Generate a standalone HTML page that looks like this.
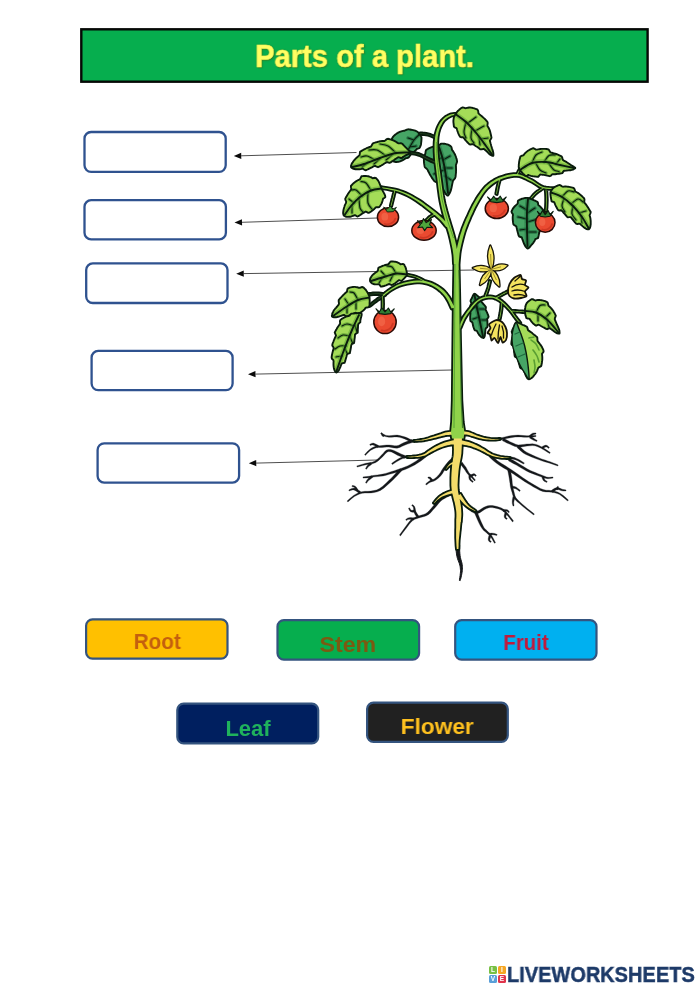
<!DOCTYPE html>
<html lang="en">
<head>
<meta charset="utf-8">
<title>Parts of a plant</title>
<style>
html,body{margin:0;padding:0;background:#fff;overflow:hidden;}
html{width:700px;height:989px;}
body{width:700px;height:989px;position:relative;overflow:hidden;font-family:"Liberation Sans",sans-serif;}
.abs{position:absolute;box-sizing:border-box;}
#title{left:80px;top:28px;width:569px;height:55px;border:2px solid transparent;}
.t{position:absolute;white-space:nowrap;font-weight:bold;text-align:center;transform-origin:50% 50%;will-change:transform;}
#title .t{left:-2px;width:569px;top:11.3px;font-size:31.7px;line-height:31.7px;color:#ffff63;transform:scaleX(.921);-webkit-text-stroke:.5px #f4f45a;text-shadow:0 0 1.5px rgba(120,130,20,.9),1px 1px 1.5px rgba(70,90,10,.6);}
.blank{width:144px;height:42px;}
.tag{border:2px solid transparent;width:143px;height:42px;}
.tag .t{left:-2px;}
#logo{left:506.6px;top:963.6px;text-align:left;transform-origin:0 50%;font-size:22px;line-height:22px;color:#1d3a68;transform:scaleX(.903);-webkit-text-stroke:.5px #1d3a68;letter-spacing:.1px;}
.lg{position:absolute;width:8px;height:8px;border-radius:1.5px;color:#fff;font-size:6.5px;line-height:8px;font-weight:bold;text-align:center;will-change:transform;}
#plant{left:0;top:0;width:700px;height:989px;}
</style>
</head>
<body>
<svg id="plant" class="abs" viewBox="0 0 700 989">
<!--PLANT-->
<rect x="81.3" y="29.3" width="566.3" height="52.4" rx="0" fill="#06ae4e" stroke="#050805" stroke-width="2.4"/>
<rect x="84.5" y="132" width="141.2" height="39.9" rx="6.6" fill="#ffffff" stroke="#2f528f" stroke-width="2.3"/>
<rect x="84.5" y="200.2" width="141.4" height="39.1" rx="6.6" fill="#ffffff" stroke="#2f528f" stroke-width="2.3"/>
<rect x="86.2" y="263.4" width="141.3" height="39.6" rx="6.6" fill="#ffffff" stroke="#2f528f" stroke-width="2.3"/>
<rect x="91.6" y="350.9" width="141" height="39.3" rx="6.6" fill="#ffffff" stroke="#2f528f" stroke-width="2.3"/>
<rect x="97.6" y="443.3" width="141.5" height="39.3" rx="6.6" fill="#ffffff" stroke="#2f528f" stroke-width="2.3"/>
<rect x="86.1" y="619.3" width="141.4" height="39.4" rx="6.4" fill="#ffc000" stroke="#34547f" stroke-width="2.2"/>
<rect x="277.5" y="620.2" width="141.6" height="39.4" rx="6.4" fill="#06ae4e" stroke="#34547f" stroke-width="2.2"/>
<rect x="455.2" y="620.2" width="141.3" height="39.4" rx="6.4" fill="#00b0f0" stroke="#34547f" stroke-width="2.2"/>
<rect x="177.3" y="703.7" width="140.9" height="39.7" rx="6.4" fill="#001f5f" stroke="#34547f" stroke-width="2.2"/>
<rect x="367.1" y="702.7" width="140.7" height="39.1" rx="6.4" fill="#212121" stroke="#34547f" stroke-width="2.2"/>
<path d="M241.2 155.8L356.5 152.5" stroke="#3a3a3a" stroke-width="0.9" fill="none"/>
<path d="M233.8 156L241.3 158.9L241.2 152.7Z" fill="#0a0a0a"/>
<path d="M242 222.3L377.5 218" stroke="#3a3a3a" stroke-width="0.9" fill="none"/>
<path d="M234.5 222.5L242.1 225.4L241.9 219.2Z" fill="#0a0a0a"/>
<path d="M243.7 273.6L474 270" stroke="#3a3a3a" stroke-width="0.9" fill="none"/>
<path d="M236.2 273.8L243.8 276.7L243.7 270.5Z" fill="#0a0a0a"/>
<path d="M255.5 374.1L452 370" stroke="#3a3a3a" stroke-width="0.9" fill="none"/>
<path d="M248 374.2L255.6 377.2L255.4 371Z" fill="#0a0a0a"/>
<path d="M256.2 463.1L377.5 460" stroke="#3a3a3a" stroke-width="0.9" fill="none"/>
<path d="M248.8 463.2L256.3 466.2L256.2 460Z" fill="#0a0a0a"/>
<path d="M451.6 431.5L449.2 432.2L445.9 433.2L442.6 434.1L440 434.8L437.5 435.5L434.7 436.2L431.3 437.1L427.5 438L423.8 438.8L419.9 439.4L416 439.9L412.6 439.9L410.1 439.3L407.8 438.1L405.4 437.1L402.6 436.3L399.9 435.6L397.1 435.1L394.2 435.2L391.5 435.6L389 435.7L386.5 435.4L383.9 434.8L382.2 434.4L381.8 435.6L383.6 436.1L386.2 436.8L389 437.3L391.7 437.2L394.4 436.9L396.9 436.9L399.5 437.3L402.1 438.1L404.6 438.9L406.9 440L409.3 441.3L412.4 442.1L416.1 442.2L420.2 441.8L424.2 441.2L428.1 440.5L431.9 439.6L435.3 438.8L438.2 438.1L440.7 437.5L443.4 436.9L446.7 436L450 435.1L452.4 434.5Z" fill="#14171a" stroke="#14171a" stroke-width=".3" stroke-linejoin="round"/>
<path d="M384.9 435.1L383.8 434.4L382.4 433.3L381.4 432.6L380.6 433.4L381.3 434.4L382.4 435.8L383.1 436.9Z" fill="#14171a" stroke="#14171a" stroke-width=".3" stroke-linejoin="round"/>
<path d="M412 439.7L409.8 440.5L406.6 441.6L403.5 442.8L401 444L398.9 445.2L396.9 445.8L394.5 445.8L391.8 445.3L389.1 445L386.5 445L384.1 445.3L381.9 445.6L379.9 445.7L377.9 445.8L375.8 446.2L373.7 447L371.6 448.1L369.6 449.4L367.6 451.2L365.8 453.2L364.6 454.6L365.4 455.4L366.7 454.1L368.5 452.2L370.4 450.6L372.3 449.4L374.3 448.5L376.2 447.8L378.1 447.5L380 447.5L382.1 447.4L384.3 447.2L386.6 447.1L388.9 447L391.4 447.4L394.2 448L397.1 448.2L399.8 447.4L402.1 446.3L404.5 445.2L407.5 444.1L410.7 443.1L413 442.3Z" fill="#14171a" stroke="#14171a" stroke-width=".3" stroke-linejoin="round"/>
<path d="M378.6 445.5L377.2 444.8L375.1 443.8L373.2 443.1L371.5 443.4L370.4 444L369.7 444.5L370.3 445.5L371 445.2L371.9 444.9L372.8 444.9L374.3 445.6L376.1 446.7L377.4 447.5Z" fill="#14171a" stroke="#14171a" stroke-width=".3" stroke-linejoin="round"/>
<path d="M452 439.4L449.8 440.2L446.7 441.4L443.5 442.6L440.4 443.7L437.2 445L434.4 446.2L432.3 447.5L430.7 448.7L429.2 450L427.7 451.5L426.3 452.9L424.6 453.9L421.8 454.6L418.4 455.1L414.9 455.5L411.5 455.6L408.1 455.7L404.8 456.1L402.1 456.9L399.8 458.1L397.6 459.3L395.3 460.8L393.1 462.3L391.6 463.4L392.4 464.6L393.9 463.5L396.1 462.1L398.4 460.7L400.5 459.6L402.7 458.6L405.2 457.9L408.2 457.7L411.6 457.7L415.1 457.5L418.6 457.3L422.2 456.8L425.4 456.1L427.8 454.8L429.4 453.3L430.8 452L432.3 450.8L433.8 449.8L435.6 448.8L438.3 447.7L441.4 446.5L444.5 445.4L447.7 444.3L450.8 443.3L453 442.6Z" fill="#14171a" stroke="#14171a" stroke-width=".3" stroke-linejoin="round"/>
<path d="M405.5 455.7L403.7 455L401 453.9L398.6 452.8L396.5 451.8L394.4 450.7L392.4 449.9L390.4 449.5L388.5 449.4L386.5 450.1L384.7 451.5L383.1 453.4L381.3 455.3L379.3 457.4L377 459.6L374.6 461.3L372 462.2L368.9 462.7L365.8 463.3L362.5 464.2L359.2 465.2L356.8 465.9L357.2 467.1L359.5 466.4L362.8 465.5L366.2 464.7L369.2 464.2L372.3 463.7L375.4 462.7L378.1 460.9L380.5 458.7L382.7 456.7L384.5 454.7L386.1 453L387.5 451.9L388.8 451.6L390.1 451.7L391.6 452.1L393.4 452.9L395.3 454L397.4 455.2L400 456.3L402.6 457.5L404.5 458.3Z" fill="#14171a" stroke="#14171a" stroke-width=".3" stroke-linejoin="round"/>
<path d="M370.3 462.6L369.5 463.3L368.4 464.3L367.4 465.4L366.6 466.6L365.9 467.9L365.5 468.7L366.5 469.3L367 468.5L367.8 467.5L368.6 466.6L369.7 465.8L370.9 465L371.7 464.4Z" fill="#14171a" stroke="#14171a" stroke-width=".3" stroke-linejoin="round"/>
<path d="M424.1 454.9L422.1 456.5L419.2 458.7L416.3 460.9L413.4 462.7L410.4 464.4L407.5 465.9L404.8 467L402.2 468L399.6 468.9L397 469.8L394.4 470.7L391.7 471.5L388.8 472.4L385.7 473.4L382.8 474.1L380.1 474.6L377.4 474.9L374.9 475.2L372.7 475.6L370.8 476L368.9 476.3L366.7 476.5L364.5 476.7L363 476.9L363 478.1L364.6 478L366.8 477.9L369.1 477.7L371.1 477.4L373 477.1L375.1 476.8L377.6 476.6L380.3 476.3L383.2 475.9L386.2 475.2L389.3 474.3L392.3 473.5L395 472.7L397.7 471.9L400.4 471.1L403 470.2L405.7 469.3L408.5 468.1L411.6 466.6L414.7 464.9L417.7 463.1L420.9 461L423.8 458.7L425.9 457.1Z" fill="#14171a" stroke="#14171a" stroke-width=".3" stroke-linejoin="round"/>
<path d="M371.2 475.6L370.2 476.6L368.7 478L367.4 479.4L366.5 480.7L365.9 481.9L365.5 482.7L366.5 483.3L367 482.6L367.7 481.6L368.6 480.6L370 479.5L371.6 478.3L372.8 477.4Z" fill="#14171a" stroke="#14171a" stroke-width=".3" stroke-linejoin="round"/>
<path d="M400 468.6L398.7 470L396.9 472L395.1 474.1L393.3 476L391.5 477.9L389.2 480.1L386.2 483L382.7 486.2L379.5 488.6L376.6 489.9L373.8 490.6L370.9 491.1L367.9 491.3L364.9 491.3L361.8 491.7L358.9 492.6L356.2 493.9L353.6 495.4L351.1 497.4L348.7 499.5L347.1 501.1L347.9 501.9L349.6 500.5L351.9 498.4L354.4 496.6L356.9 495.2L359.5 494.1L362.2 493.3L365 493L368 493.1L371.1 492.9L374.1 492.5L377.2 491.8L380.5 490.4L384.1 487.9L387.7 484.7L390.8 481.9L393.2 479.7L395.1 477.7L396.9 475.9L398.9 473.8L400.8 471.8L402 470.4Z" fill="#14171a" stroke="#14171a" stroke-width=".3" stroke-linejoin="round"/>
<path d="M360.7 491.5L359 490.5L356.6 489.1L354.2 488.1L351.9 488.4L350 489.3L348.8 490L349.2 491L350.5 490.5L352.3 489.9L353.8 489.9L355.7 490.8L357.8 492.3L359.3 493.5Z" fill="#14171a" stroke="#14171a" stroke-width=".3" stroke-linejoin="round"/>
<path d="M358 490L357.5 489L356.6 487.6L355.6 486.4L354.2 485.7L353 485.5L352.1 485.5L351.9 486.5L352.7 486.8L353.7 487.1L354.4 487.6L355 488.6L355.6 490L356 491Z" fill="#14171a" stroke="#14171a" stroke-width=".3" stroke-linejoin="round"/>
<path d="M451.9 457.9L450.6 459.2L448.7 461.1L447 463.1L445.6 464.8L444.3 466.5L443 468.3L441.7 470.3L440.5 472.4L439.2 474.3L437.7 476L436.1 477.5L434.5 478.7L433 479.5L431.3 480.1L429.6 480.8L428 481.9L426.6 483.1L425.6 484L426.4 485L427.4 484.2L428.9 483.1L430.4 482.2L431.9 481.7L433.6 481.2L435.5 480.3L437.3 479L439.1 477.5L440.8 475.7L442.4 473.7L443.7 471.6L445 469.7L446.3 468.1L447.6 466.5L449 464.9L450.8 463.2L452.7 461.4L454.1 460.1Z" fill="#14171a" stroke="#14171a" stroke-width=".3" stroke-linejoin="round"/>
<path d="M432.9 479.8L432.3 479.2L431.5 478.2L430.5 477.3L429.5 476.9L428.6 476.9L428.1 477L427.9 478L428.4 478.2L429 478.4L429.5 478.7L430 479.4L430.6 480.4L431.1 481.2Z" fill="#14171a" stroke="#14171a" stroke-width=".3" stroke-linejoin="round"/>
<path d="M452.4 491.6L450.6 492.3L447.9 493.5L445.3 494.7L443.2 495.9L441.1 497.3L439.1 499L437 501.3L435 503.8L433 506.2L431.1 508.6L429.1 510.8L427.3 512.6L425.5 513.7L423.6 514.4L421.7 515L420 515.6L418.4 516L416.7 516.6L415 517.3L413.2 518.1L411.5 519.3L409.8 521.1L408.2 523.1L406.4 525.5L404 528.8L401.3 532.5L399.5 535.1L400.5 535.9L402.4 533.3L405.1 529.7L407.6 526.5L409.4 524.1L411 522.2L412.5 520.7L414.1 519.6L415.7 519L417.3 518.4L418.9 517.9L420.5 517.5L422.3 517L424.3 516.4L426.4 515.7L428.7 514.4L430.9 512.5L432.9 510.1L435 507.8L437 505.4L439 503L440.9 501L442.8 499.5L444.7 498.4L446.7 497.3L449.1 496.2L451.7 495.1L453.6 494.4Z" fill="#14171a" stroke="#14171a" stroke-width=".3" stroke-linejoin="round"/>
<path d="M419 516.3L418.1 515.1L416.9 513.3L415.9 511.6L415.5 510.1L415.2 508.3L414.7 506.7L413.8 505.6L412.9 504.9L412.3 504.6L411.7 505.4L412.2 505.9L412.8 506.5L413.3 507.3L413.5 508.6L413.7 510.4L414.1 512.4L415 514.4L416.2 516.3L417 517.7Z" fill="#14171a" stroke="#14171a" stroke-width=".3" stroke-linejoin="round"/>
<path d="M414.9 509.9L413.8 510.1L412.4 510.3L411.4 510.2L410.7 509.7L410 508.6L409.5 507.8L408.5 508.2L408.9 509.2L409.5 510.6L410.6 511.8L412.3 512.2L414 512.2L415.1 512.1Z" fill="#14171a" stroke="#14171a" stroke-width=".3" stroke-linejoin="round"/>
<path d="M414.2 517.9L412.8 517.8L410.8 517.6L408.9 517.7L407.4 518.2L406.4 519L405.7 519.5L406.3 520.5L407 520.1L408 519.6L409.1 519.3L410.6 519.5L412.5 519.8L413.8 520.1Z" fill="#14171a" stroke="#14171a" stroke-width=".3" stroke-linejoin="round"/>
<path d="M459.9 463.9L461 465.1L462.6 466.9L464 468.7L465.1 470.3L466.1 472L467.2 473.6L468.3 474.7L469.3 475.6L470.4 476.5L471.9 478L473.4 479.7L474.6 480.9L475.4 480.1L474.4 478.8L472.9 477.1L471.6 475.5L470.5 474.3L469.6 473.4L468.8 472.4L468 470.9L467 469.2L466 467.3L464.6 465.4L463.1 463.4L462.1 462.1Z" fill="#14171a" stroke="#14171a" stroke-width=".3" stroke-linejoin="round"/>
<path d="M471.6 477L472.4 476.4L473.4 475.7L474 475.4L474.4 475.5L475.1 476L475.6 476.4L476.4 475.6L476 475L475.2 474.2L474 473.6L472.6 474L471.3 474.6L470.4 475Z" fill="#14171a" stroke="#14171a" stroke-width=".3" stroke-linejoin="round"/>
<path d="M468.9 474.9L468.8 476L468.8 477.6L469.2 479.3L470.3 480.7L471.7 481.8L472.6 482.4L473.4 481.6L472.5 480.8L471.4 479.7L470.8 478.7L470.7 477.6L470.9 476.2L471.1 475.1Z" fill="#14171a" stroke="#14171a" stroke-width=".3" stroke-linejoin="round"/>
<path d="M462.6 434L464.7 434.5L467.6 435.1L470.6 435.9L473.4 436.8L476.5 437.8L479.6 438.8L483 439.6L486.4 440.3L489.9 440.7L493.4 440.7L496.8 440.5L500.2 440.1L503.3 439.4L506.3 438.6L509.2 438L512.1 437.5L515.1 437.1L518 436.9L521 436.9L523.9 437.2L527 437.3L530.4 437.1L533.7 436.9L536 436.6L536 435.4L533.6 435.5L530.3 435.7L527 435.7L524.1 435.6L521 435.3L518 435.1L514.9 435.3L511.9 435.6L508.8 436L505.8 436.7L502.8 437.4L499.8 437.9L496.6 438.2L493.3 438.4L490.1 438.3L486.8 437.8L483.6 437.1L480.4 436.2L477.3 435.2L474.3 434.1L471.4 433.1L468.3 432.3L465.4 431.5L463.4 431Z" fill="#14171a" stroke="#14171a" stroke-width=".3" stroke-linejoin="round"/>
<path d="M530.8 437.4L531.5 436.6L532.5 435.5L533.4 434.8L534.3 434.4L535.3 434.2L536 434L536 433L535.2 432.9L534 432.9L532.6 433.2L531.3 434L530 435L529.2 435.6Z" fill="#14171a" stroke="#14171a" stroke-width=".3" stroke-linejoin="round"/>
<path d="M529.4 438L530.5 438.6L532.1 439.5L533.6 440.3L534.8 440.8L536 441.2L536.8 441.5L537.2 440.5L536.5 440.1L535.5 439.4L534.4 438.7L533.1 437.8L531.7 436.8L530.6 436Z" fill="#14171a" stroke="#14171a" stroke-width=".3" stroke-linejoin="round"/>
<path d="M502.4 440.7L504.2 441.6L506.8 442.9L509.5 444.1L512.1 445.3L514.9 446.4L517.9 447.1L521.1 447L524.2 446.4L527.1 446L529.8 445.8L532.4 445.6L534.8 445.8L537.1 446.5L539.3 447.4L541.6 448.6L544.5 450.3L547.5 452.2L549.7 453.5L550.3 452.5L548.2 451.1L545.2 449.1L542.4 447.4L540 446.1L537.7 444.9L535.2 444.2L532.5 443.8L529.7 443.9L526.9 444L523.9 444.4L520.9 444.8L518.1 444.9L515.6 444.2L513 443.1L510.5 441.9L507.9 440.6L505.4 439.2L503.6 438.3Z" fill="#14171a" stroke="#14171a" stroke-width=".3" stroke-linejoin="round"/>
<path d="M542.6 449L543.6 448.2L545 447.3L546 446.9L546.8 447.1L547.8 447.8L548.6 448.4L549.4 447.6L548.7 446.8L547.6 445.8L546 445.1L544.2 445.6L542.5 446.4L541.4 447Z" fill="#14171a" stroke="#14171a" stroke-width=".3" stroke-linejoin="round"/>
<path d="M517 447.5L518.6 448.9L520.8 451L523.3 453L525.9 454.5L528.7 455.7L531.6 457L534.9 458.3L538.4 459.6L541.7 460.8L544.6 461.7L547.2 462.4L549.8 463.2L552.7 464.2L555.7 465.3L557.8 466L558.2 465L556.1 464.1L553.2 462.9L550.2 461.8L547.6 460.9L545.1 460.1L542.3 459.2L539.1 457.9L535.6 456.5L532.4 455L529.6 453.7L527 452.4L524.7 451L522.5 449.1L520.4 447.1L519 445.5Z" fill="#14171a" stroke="#14171a" stroke-width=".3" stroke-linejoin="round"/>
<path d="M462.5 442.6L464.9 443.3L468.2 444.3L471.5 445.4L474.3 446.5L476.9 447.6L479.3 448.7L481.3 450L483.2 451.5L485.2 453L487.1 454.5L489.1 455.9L491.6 457.1L494.8 457.8L498.4 458.3L501.9 458.5L505.4 458.7L508.9 458.7L511.9 458.9L514.1 459.4L515.8 460L517.6 460.7L519.8 461.9L522.1 463.2L523.6 464.1L524.4 462.9L522.8 461.9L520.6 460.5L518.4 459.3L516.5 458.4L514.5 457.6L512.1 457.1L509 456.8L505.5 456.7L502.1 456.5L498.6 456.1L495.2 455.6L492.4 454.9L490.3 453.8L488.6 452.5L486.8 451L484.9 449.5L483 447.8L480.7 446.3L478.1 444.9L475.4 443.7L472.5 442.6L469.2 441.4L465.9 440.2L463.5 439.4Z" fill="#14171a" stroke="#14171a" stroke-width=".3" stroke-linejoin="round"/>
<path d="M508.3 460.7L510.3 461.8L513.2 463.4L516.4 465.1L519.6 467L523.1 469.1L526.5 471L529.4 472.4L532 473.4L534.6 474.4L537.4 475.5L540.2 476.5L542.7 477.3L544.6 478L546.2 478.4L547.9 478.7L549.9 478.6L551.8 478.3L553.1 478.1L552.9 476.9L551.6 477.1L549.8 477.3L548.1 477.3L546.6 477L545.2 476.4L543.3 475.7L540.9 474.8L538.1 473.7L535.4 472.6L532.8 471.5L530.3 470.4L527.5 469L524.3 467.1L520.9 464.9L517.6 462.9L514.5 461.1L511.7 459.4L509.7 458.3Z" fill="#14171a" stroke="#14171a" stroke-width=".3" stroke-linejoin="round"/>
<path d="M541.8 477.3L542.1 478.1L542.6 479.3L543.3 480.5L544.5 481.4L545.8 482.1L546.7 482.5L547.3 481.5L546.5 480.9L545.4 480.2L544.7 479.5L544.4 478.6L544.2 477.6L544.2 476.7Z" fill="#14171a" stroke="#14171a" stroke-width=".3" stroke-linejoin="round"/>
<path d="M488.9 456.6L490.6 458.2L493.1 460.6L496.2 463.1L499.7 465.5L503.6 467.9L507.3 470.1L510.5 472.2L513.5 474.1L516.3 476L519 477.8L521.6 479.6L524.4 481.4L527.4 483.3L530.4 485.1L533.5 486.9L536.5 488.6L539.6 490.2L542.7 491.4L545.9 491.9L549 492L551.9 492.3L554.6 492.8L557.1 493.5L559.6 494.6L562.5 496.7L565.5 499.2L567.6 501L568.4 500L566.4 498.2L563.4 495.6L560.4 493.4L557.6 492.1L554.9 491.3L552.1 490.7L549.1 490.3L546.1 490.2L543.3 489.6L540.4 488.4L537.5 486.8L534.5 485.1L531.5 483.3L528.5 481.5L525.6 479.6L522.9 477.7L520.4 475.9L517.7 474L514.8 472L511.9 470L508.7 467.9L505 465.6L501.2 463.2L497.8 460.9L495.1 458.5L492.7 456.1L491.1 454.4Z" fill="#14171a" stroke="#14171a" stroke-width=".3" stroke-linejoin="round"/>
<path d="M552.7 492.5L554 491.5L555.7 490.2L557.2 489.5L558.5 489.6L560.1 490.2L561.8 490.8L563.5 491L564.9 491L565.9 491L566.1 490L565.1 489.8L563.7 489.6L562.2 489.2L560.7 488.6L558.9 487.8L556.8 487.5L554.6 488.3L552.6 489.6L551.3 490.5Z" fill="#14171a" stroke="#14171a" stroke-width=".3" stroke-linejoin="round"/>
<path d="M558.1 489.9L558.2 488.9L558.4 487.6L558.5 486.7L557.5 486.3L557 487.2L556.4 488.3L555.9 489.1Z" fill="#14171a" stroke="#14171a" stroke-width=".3" stroke-linejoin="round"/>
<path d="M507.6 470.3L508.1 472.3L508.7 475.3L509.2 478.2L509.6 480.9L510 483.6L510.3 486.2L510.8 488.4L511.4 490.4L512 492.3L512.5 494.3L513.2 496.4L514.2 498.5L515.7 500.3L517.5 501.9L519.5 503.6L521.7 505.5L524.1 507.6L526.6 509.5L529.2 511.6L531.8 513.6L533.6 515L534.4 514L532.6 512.6L530 510.6L527.4 508.5L525.1 506.4L522.7 504.4L520.5 502.4L518.7 500.7L517 499.1L515.8 497.5L515 495.7L514.5 493.8L514 491.7L513.5 489.8L513 487.9L512.7 485.8L512.3 483.3L512.1 480.6L511.8 477.8L511.3 474.8L510.7 471.8L510.4 469.7Z" fill="#14171a" stroke="#14171a" stroke-width=".3" stroke-linejoin="round"/>
<path d="M511.8 488.1L512.8 488.2L514.3 488.4L515.6 488.8L517 489.6L518.6 490.7L519.7 491.4L520.3 490.6L519.4 489.6L517.9 488.4L516.4 487.2L514.8 486.6L513.2 486.2L512.2 485.9Z" fill="#14171a" stroke="#14171a" stroke-width=".3" stroke-linejoin="round"/>
<path d="M512.9 496.7L512.7 498.1L512.3 500L512.2 502L512.3 503.6L512.7 505.1L513 506.1L514 505.9L514 504.9L513.8 503.5L513.8 502L514.2 500.4L514.7 498.6L515.1 497.3Z" fill="#14171a" stroke="#14171a" stroke-width=".3" stroke-linejoin="round"/>
<path d="M458.7 497.9L460 499.8L461.9 502.4L463.9 504.9L465.5 506.8L467.2 508.5L469.2 510.1L471.5 511.7L474.1 513.1L477.1 513.7L479.9 512.7L482.4 510.9L484.6 509.5L486.5 508.6L488.2 507.9L490.1 507.5L492.2 507.6L494.5 507.9L496.8 508.4L498.8 509L500.7 509.7L502.5 510.7L504.2 512L505.8 513.7L507.4 515.5L509.3 517.7L511.2 520.2L512.5 521.9L513.5 521.1L512.3 519.3L510.4 516.9L508.6 514.5L506.9 512.6L505.3 510.8L503.5 509.3L501.5 508.1L499.4 507.3L497.2 506.6L494.9 506L492.4 505.5L489.9 505.5L487.7 505.8L485.6 506.5L483.4 507.5L481.1 509L478.8 510.6L476.9 511.3L475.1 510.8L472.9 509.4L470.8 507.9L469.1 506.5L467.6 504.9L466.1 503.1L464.3 500.7L462.5 498L461.3 496.1Z" fill="#14171a" stroke="#14171a" stroke-width=".3" stroke-linejoin="round"/>
<path d="M503.1 511.6L504.2 511.5L505.6 511.3L506.7 511.3L507.4 511.6L508 512.3L508.6 512.8L509.4 512.2L509.1 511.5L508.4 510.5L507.3 509.7L505.7 509.4L504.1 509.4L502.9 509.4Z" fill="#14171a" stroke="#14171a" stroke-width=".3" stroke-linejoin="round"/>
<path d="M504.9 512.6L504.6 513.8L504.2 515.5L504.2 517.1L505 518.4L506 519.1L506.7 519.4L507.3 518.6L506.8 518L506.1 517.4L505.8 516.9L506.1 515.9L506.6 514.4L507.1 513.4Z" fill="#14171a" stroke="#14171a" stroke-width=".3" stroke-linejoin="round"/>
<path d="M474.6 513L475.4 514.9L476.6 517.7L477.8 520.5L479.1 523.3L480.6 526.2L482.1 528.6L483.6 530.4L485 531.6L486.4 532.7L487.7 533.9L489.1 535L490.4 536.5L491.9 538.7L493.4 541.4L494.5 543.3L495.5 542.7L494.5 540.8L493.1 538L491.6 535.5L490.3 533.9L488.9 532.6L487.6 531.3L486.3 530.1L485.1 528.9L483.9 527.4L482.7 525.1L481.4 522.3L480.2 519.5L479.1 516.7L478 513.9L477.4 512Z" fill="#14171a" stroke="#14171a" stroke-width=".3" stroke-linejoin="round"/>
<path d="M489.2 535.6L490.2 535.4L491.6 535L492.9 534.8L494.3 535L495.8 535.3L496.8 535.5L497.2 534.5L496.1 534.1L494.7 533.5L493.1 533.2L491.4 533.1L489.9 533.3L488.8 533.4Z" fill="#14171a" stroke="#14171a" stroke-width=".3" stroke-linejoin="round"/>
<path d="M488.9 535.6L488.6 536.8L488.2 538.5L488.2 540.1L489 541.4L490 542.1L490.7 542.4L491.3 541.6L490.8 541L490.1 540.4L489.8 539.9L490.1 538.9L490.6 537.4L491.1 536.4Z" fill="#14171a" stroke="#14171a" stroke-width=".3" stroke-linejoin="round"/>
<path d="M455.6 545.1L455.8 546.6L456 548.8L456.2 551.4L456.5 553.9L456.9 556.3L457.4 558.3L458.1 560.3L458.8 562.1L459.4 563.7L459.8 565.2L460.1 566.6L460.3 567.9L460.4 569.2L460.5 570.5L460.5 571.9L460.3 573.6L460.1 575.6L459.8 577.5L459.5 579.2L459.4 580.4L460.2 580.6L460.5 579.4L461 577.8L461.4 575.8L461.8 573.9L462.1 572.1L462.3 570.6L462.4 569.2L462.4 567.8L462.4 566.4L462.2 564.8L461.9 563L461.4 561.2L460.9 559.4L460.4 557.6L460.1 555.7L459.9 553.6L459.7 551.1L459.7 548.6L459.6 546.4L459.6 544.9Z" fill="#14171a" stroke="#14171a" stroke-width="1"/>
<clipPath id="lf1"><path d="M421 136L420.6 135.4L420.2 134.7L419.6 134L419 133.3L418.4 132.6L417.7 132L417 131.5L416.2 131.1L415.2 130.7L414.2 130.4L413.2 130.1L412.1 129.9L411.1 129.7L410 129.5L409 129.4L408 129.3L406.9 129.6L405.9 130L405 130.5L404 130.8L403.1 130.9L402.2 131.1L401.3 131.4L400.4 131.7L399.5 132L398.6 132.4L397.8 132.9L396.9 133.4L396.1 134L395.4 134.5L394.6 135.2L393.9 135.9L393.2 136.7L392.5 137.6L391.9 138.7L391.8 140.3L391.9 141.9L391.5 143.6L391 145.3L390.6 146.9L390.2 148.5L389.9 150L389.8 151.3L389.7 152.7L389.8 153.9L389.9 155.1L390.1 156.2L390.4 157.2L390.8 158.1L391.2 158.8L391.6 159.4L392 160L392.3 160.5L392.8 160.9L393.3 161.3L394 161.6L394.8 161.9L395.7 162L396.8 162L397.9 161.9L399 161.7L400 161.4L401 161L401.9 160.6L402.8 160.2L403.6 159.7L404.4 159.2L405.2 158.6L406 158.1L407 158L407.9 157.8L408.7 157.4L409.2 156.7L409.7 156.1L410.1 155.4L410.6 154.8L411.2 154.2L411.8 153.6L412.4 153.1L413.1 152.5L413.8 152L414.5 151.4L415.2 150.8L415.8 150.2L416.3 149.6L416.9 148.9L417.8 148.6L418.7 148.3L419.6 147.8L420.1 147L420.4 146.2L420.7 145.4L421 144.4L421.1 143.5L421.2 142.5L421.3 141.6L421.4 140.8L421.4 140L421.5 139.3L421.5 138.7L421.5 138.2L421.5 137.7L421.4 137.1L421.2 136.6Z"/></clipPath>
<g clip-path="url(#lf1)">
<rect x="386" y="126" width="39.5" height="39.5" fill="#46a565"/>
<path d="M420 134C419 135 416 137.3 414 140C412 142.7 410 147 408 150C406 153 403 156.7 402 158M414 140C413 139.7 409 138.3 408 138M410 147C411 146.8 415 146.2 416 146" fill="none" stroke="#1f6b3e" stroke-width="3.3" stroke-linecap="round" opacity=".8"/>
<path d="M420 134C419 135 416 137.3 414 140C412 142.7 410 147 408 150C406 153 403 156.7 402 158M414 140C413 139.7 409 138.3 408 138M410 147C411 146.8 415 146.2 416 146" fill="none" stroke="#0a1c0d" stroke-width="1.15" stroke-linecap="round"/>
</g>
<path d="M421 136L420.6 135.4L420.2 134.7L419.6 134L419 133.3L418.4 132.6L417.7 132L417 131.5L416.2 131.1L415.2 130.7L414.2 130.4L413.2 130.1L412.1 129.9L411.1 129.7L410 129.5L409 129.4L408 129.3L406.9 129.6L405.9 130L405 130.5L404 130.8L403.1 130.9L402.2 131.1L401.3 131.4L400.4 131.7L399.5 132L398.6 132.4L397.8 132.9L396.9 133.4L396.1 134L395.4 134.5L394.6 135.2L393.9 135.9L393.2 136.7L392.5 137.6L391.9 138.7L391.8 140.3L391.9 141.9L391.5 143.6L391 145.3L390.6 146.9L390.2 148.5L389.9 150L389.8 151.3L389.7 152.7L389.8 153.9L389.9 155.1L390.1 156.2L390.4 157.2L390.8 158.1L391.2 158.8L391.6 159.4L392 160L392.3 160.5L392.8 160.9L393.3 161.3L394 161.6L394.8 161.9L395.7 162L396.8 162L397.9 161.9L399 161.7L400 161.4L401 161L401.9 160.6L402.8 160.2L403.6 159.7L404.4 159.2L405.2 158.6L406 158.1L407 158L407.9 157.8L408.7 157.4L409.2 156.7L409.7 156.1L410.1 155.4L410.6 154.8L411.2 154.2L411.8 153.6L412.4 153.1L413.1 152.5L413.8 152L414.5 151.4L415.2 150.8L415.8 150.2L416.3 149.6L416.9 148.9L417.8 148.6L418.7 148.3L419.6 147.8L420.1 147L420.4 146.2L420.7 145.4L421 144.4L421.1 143.5L421.2 142.5L421.3 141.6L421.4 140.8L421.4 140L421.5 139.3L421.5 138.7L421.5 138.2L421.5 137.7L421.4 137.1L421.2 136.6Z" fill="none" stroke="#0a1c0d" stroke-width="1.9" stroke-linejoin="round"/>
<clipPath id="lf2"><path d="M439 145L439.7 144.7L440.2 144.4L440.6 144.1L440.9 143.9L441.1 143.7L441.5 143.6L442 143.6L442.7 143.6L443.5 143.7L444.4 143.8L445.4 143.9L446.3 144.2L447.3 144.4L448.1 144.7L449 145.1L449.8 145.6L450.6 146.1L451.3 146.8L451.6 147.8L451.8 148.8L452 149.9L452.6 150.6L453.2 151.4L453.7 152.2L454.2 153.1L454.7 154L455.2 155L455.6 156L456 157L456.3 158.1L456.7 159.1L456.9 160.3L457.1 161.5L456.8 162.7L456.3 164L455.9 165.3L456 166.7L456 168.1L456.1 169.6L456 171.1L456 172.6L455.8 174.1L455.7 175.5L455.5 177L455 178.4L453.9 179.6L453 180.8L452.6 182.4L452.3 183.9L451.9 185.7L451.5 187.7L451 189.9L450.3 191.9L449.5 193.5L448.7 194.8L448 195.5L447.3 195.5L446.6 194.9L445.8 194L445 192.8L444.3 191.5L443.6 190.2L442.9 189.1L442.1 188.2L441.4 187.3L440.6 186.3L439.8 185.4L439 184.5L438.2 183.5L437.4 182.6L436.1 182.1L434.8 181.5L433.9 180.6L433.1 179.5L432.3 178.4L431.6 177.2L430.9 176.1L430.2 174.9L429.5 173.7L428.9 172.5L428.2 171.3L427.7 170L426.9 169L425.8 168.1L424.8 167.1L424.5 165.9L424.3 164.7L424.1 163.4L424 162.3L423.9 161.1L423.9 160L424 158.9L424.1 157.9L424.3 156.8L424.5 155.9L424.8 154.9L425.1 154.1L425.5 153.2L425.5 152.2L425.7 151.1L426.1 150.1L427 149.4L427.9 148.9L428.8 148.3L429.9 147.8L431.1 147.3L432.4 146.9L433.9 146.5L435.4 146.1L436.8 145.8L438 145.4Z"/></clipPath>
<g clip-path="url(#lf2)">
<rect x="420" y="139.5" width="40.5" height="60" fill="#46a565"/>
<path d="M443 160C444.2 159.3 448.8 156.7 450 156M444 168C445.3 168 450.7 168 452 168M445 176C446 176.7 450 179.3 451 180M442 158C440.3 158.3 433.7 159.7 432 160M444 170C442.3 170.7 435.7 173.3 434 174" fill="none" stroke="#1f6b3e" stroke-width="3.3" stroke-linecap="round" opacity=".8"/>
<path d="M443 160C444.2 159.3 448.8 156.7 450 156M444 168C445.3 168 450.7 168 452 168M445 176C446 176.7 450 179.3 451 180M442 158C440.3 158.3 433.7 159.7 432 160M444 170C442.3 170.7 435.7 173.3 434 174" fill="none" stroke="#0a1c0d" stroke-width="1.15" stroke-linecap="round"/>
<path d="M439 147C439.7 149.2 441.8 155.2 443 160C444.2 164.8 445.2 170.5 446 176C446.8 181.5 447.7 190.2 448 193" fill="none" stroke="#1f6b3e" stroke-width="5" stroke-linecap="round" opacity=".5"/>
<path d="M439 147C439.7 149.2 441.8 155.2 443 160C444.2 164.8 445.2 170.5 446 176C446.8 181.5 447.7 190.2 448 193" fill="none" stroke="#0a1c0d" stroke-width="1.9" stroke-linecap="round"/>
</g>
<path d="M439 145L439.7 144.7L440.2 144.4L440.6 144.1L440.9 143.9L441.1 143.7L441.5 143.6L442 143.6L442.7 143.6L443.5 143.7L444.4 143.8L445.4 143.9L446.3 144.2L447.3 144.4L448.1 144.7L449 145.1L449.8 145.6L450.6 146.1L451.3 146.8L451.6 147.8L451.8 148.8L452 149.9L452.6 150.6L453.2 151.4L453.7 152.2L454.2 153.1L454.7 154L455.2 155L455.6 156L456 157L456.3 158.1L456.7 159.1L456.9 160.3L457.1 161.5L456.8 162.7L456.3 164L455.9 165.3L456 166.7L456 168.1L456.1 169.6L456 171.1L456 172.6L455.8 174.1L455.7 175.5L455.5 177L455 178.4L453.9 179.6L453 180.8L452.6 182.4L452.3 183.9L451.9 185.7L451.5 187.7L451 189.9L450.3 191.9L449.5 193.5L448.7 194.8L448 195.5L447.3 195.5L446.6 194.9L445.8 194L445 192.8L444.3 191.5L443.6 190.2L442.9 189.1L442.1 188.2L441.4 187.3L440.6 186.3L439.8 185.4L439 184.5L438.2 183.5L437.4 182.6L436.1 182.1L434.8 181.5L433.9 180.6L433.1 179.5L432.3 178.4L431.6 177.2L430.9 176.1L430.2 174.9L429.5 173.7L428.9 172.5L428.2 171.3L427.7 170L426.9 169L425.8 168.1L424.8 167.1L424.5 165.9L424.3 164.7L424.1 163.4L424 162.3L423.9 161.1L423.9 160L424 158.9L424.1 157.9L424.3 156.8L424.5 155.9L424.8 154.9L425.1 154.1L425.5 153.2L425.5 152.2L425.7 151.1L426.1 150.1L427 149.4L427.9 148.9L428.8 148.3L429.9 147.8L431.1 147.3L432.4 146.9L433.9 146.5L435.4 146.1L436.8 145.8L438 145.4Z" fill="none" stroke="#0a1c0d" stroke-width="1.9" stroke-linejoin="round"/>
<clipPath id="lf3"><path d="M474.5 293.8L475 293.9L475.6 294.3L476.3 294.8L477 295.4L477.7 296L478.5 296.7L479.2 297.3L480 298L480.7 298.6L480.9 299.8L480.8 301.1L481.5 301.9L482.2 302.7L482.9 303.5L483.7 304.4L484.4 305.2L485.2 306.1L485.9 307L485.8 308.4L485.5 309.7L486.1 310.6L486.6 311.6L487.1 312.6L487.5 313.6L487.9 314.7L488.3 315.7L488.6 316.8L487.9 318L487.1 319.1L487.3 320.2L487.4 321.4L487.4 322.6L487.5 323.8L487.5 325L487.5 326.1L487.3 327.2L486.1 328.1L485.5 329L485.4 330.1L485.3 331.1L485.2 332.1L485.1 333L485 333.9L484.9 334.9L484.8 335.8L484.5 336.6L484.2 337.3L483.9 337.7L483.5 338L483 337.9L482.4 337.7L481.6 337.3L480.8 336.7L480.1 336L479.5 335.3L478.9 334.6L478.5 333.9L478.1 333.2L477.7 332.5L477.3 331.7L477 331L476.1 330.6L475 330.4L474.4 329.7L474.1 328.8L473.8 328L473.5 327.1L473.2 326.2L473 325.3L472.8 324.4L472.6 323.5L472.4 322.5L471.6 321.8L470.5 321.1L470.3 320.1L470.2 319.1L470.2 318.1L470.2 317L470.2 316L470.3 315L470.4 314L470.5 313L469.9 312L469 311L469.1 310L469.4 308.9L469.7 307.9L470 306.9L470.3 305.9L470.6 305L471 304.1L471.3 303.2L471 302.2L470.5 301.1L470.7 300.2L471.1 299.4L471.5 298.7L471.9 298L472.2 297.2L472.6 296.4L472.9 295.7L473.3 295L473.7 294.4L474 294Z"/></clipPath>
<g clip-path="url(#lf3)">
<rect x="465.8" y="289.8" width="26" height="52.2" fill="#46a565"/>
<path d="M477 307C476.2 307.2 472.8 307.8 472 308M479 317C478 317.3 474 318.7 473 319M477.5 309C478.6 309 482.9 309 484 309M480 320C481 320 485 320 486 320" fill="none" stroke="#1f6b3e" stroke-width="3.3" stroke-linecap="round" opacity=".8"/>
<path d="M477 307C476.2 307.2 472.8 307.8 472 308M479 317C478 317.3 474 318.7 473 319M477.5 309C478.6 309 482.9 309 484 309M480 320C481 320 485 320 486 320" fill="none" stroke="#0a1c0d" stroke-width="1.15" stroke-linecap="round"/>
<path d="M474.5 295C474.9 297.2 476.1 303.5 477 308C477.9 312.5 479 317.2 480 322C481 326.8 482.5 334.1 483 336.5" fill="none" stroke="#1f6b3e" stroke-width="5" stroke-linecap="round" opacity=".5"/>
<path d="M474.5 295C474.9 297.2 476.1 303.5 477 308C477.9 312.5 479 317.2 480 322C481 326.8 482.5 334.1 483 336.5" fill="none" stroke="#0a1c0d" stroke-width="1.9" stroke-linecap="round"/>
</g>
<path d="M474.5 293.8L475 293.9L475.6 294.3L476.3 294.8L477 295.4L477.7 296L478.5 296.7L479.2 297.3L480 298L480.7 298.6L480.9 299.8L480.8 301.1L481.5 301.9L482.2 302.7L482.9 303.5L483.7 304.4L484.4 305.2L485.2 306.1L485.9 307L485.8 308.4L485.5 309.7L486.1 310.6L486.6 311.6L487.1 312.6L487.5 313.6L487.9 314.7L488.3 315.7L488.6 316.8L487.9 318L487.1 319.1L487.3 320.2L487.4 321.4L487.4 322.6L487.5 323.8L487.5 325L487.5 326.1L487.3 327.2L486.1 328.1L485.5 329L485.4 330.1L485.3 331.1L485.2 332.1L485.1 333L485 333.9L484.9 334.9L484.8 335.8L484.5 336.6L484.2 337.3L483.9 337.7L483.5 338L483 337.9L482.4 337.7L481.6 337.3L480.8 336.7L480.1 336L479.5 335.3L478.9 334.6L478.5 333.9L478.1 333.2L477.7 332.5L477.3 331.7L477 331L476.1 330.6L475 330.4L474.4 329.7L474.1 328.8L473.8 328L473.5 327.1L473.2 326.2L473 325.3L472.8 324.4L472.6 323.5L472.4 322.5L471.6 321.8L470.5 321.1L470.3 320.1L470.2 319.1L470.2 318.1L470.2 317L470.2 316L470.3 315L470.4 314L470.5 313L469.9 312L469 311L469.1 310L469.4 308.9L469.7 307.9L470 306.9L470.3 305.9L470.6 305L471 304.1L471.3 303.2L471 302.2L470.5 301.1L470.7 300.2L471.1 299.4L471.5 298.7L471.9 298L472.2 297.2L472.6 296.4L472.9 295.7L473.3 295L473.7 294.4L474 294Z" fill="none" stroke="#0a1c0d" stroke-width="1.9" stroke-linejoin="round"/>
<path d="M453.6 436L453.7 437.4L453.7 439.3L453.8 441.6L453.8 443.9L453.8 445.9L453.8 447.8L453.9 449.5L453.8 451.1L453.8 452.8L453.7 454.6L453.5 456.5L453.1 458.6L452.8 460.8L452.4 463.1L452.1 465.5L451.9 468L451.7 470.4L451.5 472.9L451.4 475.4L451.3 477.9L451.3 480.3L451.3 482.8L451.3 485.3L451.5 487.8L451.8 490.4L452.2 493L452.9 495.6L453.5 498L454.1 500.4L454.7 502.5L455.1 504.6L455.5 506.6L455.8 508.4L456.1 510.3L456.3 512.1L456.4 514.2L456.4 516.4L456.3 518.6L456.3 520.5L456.3 521.9L460.9 522.1L461 520.7L461.1 518.8L461.3 516.5L461.4 514.1L461.3 511.9L461.2 509.8L461 507.7L460.8 505.7L460.5 503.7L460.1 501.5L459.7 499.1L459.1 496.6L458.6 494.2L458.1 491.9L457.8 489.6L457.7 487.4L457.6 485.1L457.7 482.8L457.8 480.5L457.9 478.1L458.1 475.8L458.3 473.4L458.5 471.1L458.8 468.7L459.1 466.5L459.5 464.3L459.9 462.1L460.3 459.9L460.8 457.6L461.1 455.4L461.4 453.4L461.5 451.5L461.6 449.7L461.7 447.9L461.8 446.1L461.8 443.9L461.9 441.6L461.9 439.3L462 437.4L462 436ZM456.2 518.9L456.2 520.4L456.2 522.5L456.2 525L456.2 527.6L456.1 529.9L456.1 532L456.1 534L456.1 536L456.1 538L456.2 540L456.3 542L456.4 544.1L456.5 546.1L456.7 547.8L456.8 549L458.4 549L458.5 547.8L458.6 546.1L458.6 544.1L458.7 542L458.8 540L459 538.1L459.2 536.2L459.4 534.2L459.6 532.2L459.9 530.1L460.1 527.8L460.3 525.3L460.6 522.8L460.8 520.6L461 519.1ZM453.9 431.5L453 431.6L451.7 431.7L450.1 431.8L448.4 432L446.8 432.2L445.3 432.6L443.9 433L442.5 433.4L441.2 433.9L439.7 434.4L438.2 434.9L436.6 435.4L435.1 436L433.5 436.6L431.8 437.1L430.1 437.6L428.3 438.2L426.5 438.7L424.7 439.2L422.9 439.6L421 439.9L418.9 440.2L416.9 440.5L415.2 440.7L414 440.9L414 441.1L415.2 441L417 441L419 440.8L421.1 440.6L423.1 440.4L424.9 440.1L426.8 439.7L428.6 439.3L430.4 438.9L432.2 438.5L433.9 438.1L435.6 437.7L437.2 437.2L438.8 436.8L440.3 436.4L441.8 436.1L443.2 435.7L444.6 435.4L445.9 435.1L447.2 435L448.6 434.9L450.2 434.8L451.8 434.8L453.1 434.9L454.1 434.9ZM460.9 434.5L461.9 434.5L463.2 434.5L464.7 434.5L466.3 434.6L467.7 434.8L469 435L470.3 435.4L471.7 435.9L473.2 436.3L474.7 436.8L476.2 437.2L477.8 437.7L479.4 438.2L481.1 438.6L482.8 438.9L484.6 439.2L486.5 439.4L488.4 439.6L490.2 439.8L492 439.8L493.8 439.8L495.7 439.6L497.4 439.4L498.9 439.2L500 439.1L500 438.9L498.9 438.9L497.4 439L495.6 439L493.8 439.1L492 439L490.3 438.8L488.5 438.5L486.7 438.2L484.9 437.9L483.2 437.5L481.5 437L479.9 436.5L478.4 435.9L476.8 435.4L475.3 434.8L473.9 434.2L472.6 433.6L471.2 433.1L469.8 432.5L468.3 432L466.7 431.7L465 431.5L463.4 431.3L462 431.2L461.1 431.1ZM454.6 439.9L453.6 440.2L452.1 440.5L450.3 440.9L448.4 441.4L446.5 441.9L444.7 442.5L442.9 443.2L441 444L439.2 444.8L437.4 445.7L435.7 446.6L434 447.6L432.4 448.6L430.9 449.5L429.4 450.5L428.1 451.3L427 452.2L426 453L424.9 453.7L423.7 454.3L422.4 454.8L420.9 455.2L419.3 455.6L417.6 455.9L416 456.2L414.1 456.4L412 456.6L410 456.7L408.2 456.8L407 456.9L407 457.1L408.2 457.1L410 457.2L412.1 457.2L414.1 457.1L416 457L417.8 456.9L419.5 456.7L421.1 456.5L422.7 456.1L424.3 455.7L425.7 455.2L426.9 454.5L428.1 453.8L429.3 453.1L430.6 452.3L432 451.6L433.6 450.7L435.3 449.9L436.9 449L438.6 448.3L440.3 447.6L442.1 446.9L444 446.3L445.8 445.8L447.5 445.3L449.2 444.9L451 444.6L452.8 444.4L454.3 444.2L455.4 444.1ZM459.6 444.1L460.8 444.2L462.6 444.5L464.6 444.9L466.7 445.3L468.5 445.7L470.1 446.1L471.8 446.6L473.3 447.2L474.9 447.7L476.4 448.3L477.9 448.9L479.3 449.5L480.7 450.2L482.1 450.9L483.5 451.6L484.8 452.3L486.2 453.1L487.6 453.9L489.1 454.6L490.7 455.3L492.4 455.9L494.2 456.4L496.1 456.9L498 457.3L499.9 457.6L502.1 457.9L504.4 458L506.7 458.1L508.6 458.1L510 458.1L510 457.9L508.6 457.8L506.7 457.6L504.4 457.4L502.1 457.1L500.1 456.8L498.2 456.3L496.4 455.8L494.6 455.2L492.9 454.6L491.3 453.9L489.9 453.1L488.5 452.3L487.2 451.4L485.9 450.5L484.5 449.6L483.2 448.8L481.8 448L480.5 447.2L479.1 446.4L477.6 445.7L476.1 445L474.5 444.3L472.9 443.6L471.2 442.9L469.5 442.3L467.6 441.7L465.4 441.2L463.4 440.7L461.6 440.3L460.4 439.9ZM453.6 490L452.5 490.4L450.9 490.9L449.1 491.6L447.2 492.3L445.6 493L444.2 493.7L442.8 494.4L441.6 495.2L440.3 496.1L439.1 497L437.9 498.2L436.7 499.5L435.5 500.9L434.6 502.1L433.9 502.9L434.1 503.1L434.9 502.4L436 501.3L437.2 500.1L438.6 498.9L439.9 498L441.1 497.2L442.3 496.6L443.6 496L445 495.5L446.4 495L448 494.5L449.9 494.1L451.7 493.6L453.3 493.3L454.4 493ZM457.4 496.1L458.2 497L459.3 498.3L460.5 499.9L461.8 501.5L463 502.8L464.1 503.9L465.2 504.9L466.2 505.8L467.4 506.7L468.6 507.6L470 508.4L471.6 509.3L473.1 510L474.5 510.7L475.4 511.1L475.6 510.9L474.7 510.3L473.5 509.4L472 508.5L470.6 507.4L469.4 506.4L468.4 505.5L467.5 504.5L466.7 503.5L465.9 502.4L465 501.2L464.1 499.8L463 498.1L462 496.5L461.1 495L460.6 493.9ZM454.6 461L453.9 461.4L453 461.9L451.8 462.5L450.7 463.2L449.6 464L448.7 465L447.8 466.1L447 467.2L446.4 468.2L445.9 468.9L446.1 469.1L446.7 468.5L447.5 467.6L448.4 466.6L449.4 465.7L450.4 465L451.4 464.4L452.5 464L453.7 463.5L454.7 463.2L455.4 463ZM437.1 137.7L435.9 137.2L434.1 136.4L432.1 135.6L430 134.8L428.1 134.2L426.3 133.8L424.4 133.5L422.6 133.4L421.1 133.2L420 133.2L420 133.8L421 133.9L422.5 134.1L424.3 134.2L426.1 134.5L427.9 134.8L429.8 135.4L431.8 136.2L433.9 137.1L435.6 137.8L436.9 138.3ZM437.2 162.5L436 162L434.2 161.3L432.2 160.4L430.1 159.5L428.2 158.6L426.4 157.7L424.7 156.7L422.9 155.8L421 154.9L419.1 154.1L417 153.5L414.7 153.1L412.4 152.7L410.4 152.4L409.1 152.2L408.9 152.8L410.3 153.1L412.3 153.4L414.5 153.8L416.8 154.3L418.9 154.9L420.7 155.6L422.5 156.5L424.2 157.5L426 158.5L427.8 159.4L429.8 160.3L431.8 161.3L433.9 162.2L435.6 162.9L436.8 163.5ZM448.6 225L447.7 224L446.3 222.5L444.7 220.7L442.9 218.7L440.9 216.9L438.7 215L436.4 213.1L433.9 211.1L431.3 209.1L428.7 207.1L426 205.2L423.2 203.1L420.3 201.1L417.4 199.2L414.4 197.5L411.5 195.8L408.6 194.3L405.6 192.9L402.5 191.7L399.2 190.6L395.4 189.6L391.3 188.7L387.1 188L383.6 187.5L381.1 187.1L380.9 187.9L383.4 188.4L387 189.1L391 189.9L395.2 190.8L398.8 191.8L402 193L405 194.3L407.9 195.7L410.7 197.3L413.6 198.9L416.4 200.7L419.2 202.7L422 204.7L424.7 206.8L427.3 208.9L429.9 210.9L432.4 212.9L434.9 214.9L437.1 216.9L439.1 218.7L441 220.6L442.7 222.5L444.2 224.3L445.4 225.9L446.4 227ZM394.7 189.9L394.4 191L394 192.5L393.6 194.3L393.1 196.2L392.7 197.9L392.2 199.6L391.8 201.5L391.3 203.3L390.9 204.8L390.7 205.9L391.3 206.1L391.6 205L392 203.5L392.4 201.7L392.9 199.8L393.3 198.1L393.8 196.4L394.2 194.5L394.7 192.7L395.1 191.2L395.3 190.1ZM435.8 213.2L435 213.6L433.8 214.3L432.4 215L431 215.9L429.8 216.7L428.6 217.7L427.4 218.9L426.3 220L425.4 221.1L424.7 221.8L425.3 222.2L425.9 221.5L426.8 220.5L427.9 219.4L429.1 218.2L430.2 217.3L431.4 216.4L432.8 215.6L434.1 214.9L435.3 214.3L436.2 213.8ZM458.7 264.2L458.8 262.3L459 259.8L459.3 256.8L459.6 253.5L460.1 250.3L460.8 247L461.6 243.4L462.5 239.7L463.5 236L464.5 232.5L465.6 229.2L466.8 226L468 222.9L469.4 219.8L470.7 216.6L472.2 213.4L473.7 210.1L475.3 206.8L477 203.7L478.7 200.7L480.4 197.8L482.1 195.1L483.9 192.5L485.8 190.1L487.8 187.9L490.1 185.8L492.4 184L494.9 182.3L497.6 180.8L500.4 179.5L503.5 178.3L506.9 177.3L510.4 176.5L513.8 176L516.9 175.9L519.8 176.3L522.6 177.3L525.3 178.5L528 179.9L530.6 181.2L533.1 182.5L535.5 184.1L537.8 185.6L540.2 187L542.8 188.1L545.8 188.7L549.1 188.9L552.3 189L555.1 188.9L557 188.9L557 188.1L555.1 188L552.3 188L549.2 187.8L546 187.5L543.2 186.9L540.8 185.9L538.5 184.5L536.2 182.9L533.9 181.3L531.4 179.8L528.7 178.5L526 177L523.2 175.7L520.2 174.7L517.1 174.1L513.7 174.1L510.1 174.6L506.4 175.3L502.9 176.4L499.6 177.5L496.6 178.8L493.8 180.4L491.1 182.1L488.6 184L486.2 186.1L483.9 188.5L481.9 191L480 193.7L478.1 196.4L476.3 199.3L474.6 202.3L472.8 205.5L471.2 208.8L469.6 212.1L468.1 215.4L466.6 218.6L465.2 221.7L463.9 224.9L462.6 228.1L461.5 231.5L460.3 235.1L459.3 238.8L458.3 242.6L457.4 246.3L456.7 249.7L456.1 253L455.7 256.4L455.3 259.4L455.1 262L454.9 263.8ZM499.7 177.9L499.4 179L499 180.5L498.5 182.3L498.1 184.2L497.7 185.9L497.3 187.7L496.9 189.5L496.6 191.3L496.4 192.9L496.2 193.9L496.8 194.1L497 193L497.3 191.4L497.6 189.6L498 187.8L498.3 186.1L498.7 184.4L499.2 182.5L499.7 180.7L500.1 179.2L500.3 178.1ZM545.7 189.5L545.7 190.9L545.9 192.9L546 195.3L546.1 197.7L546.1 200L546.1 202.3L546 204.9L545.9 207.3L545.7 209.5L545.7 211L546.3 211L546.4 209.5L546.6 207.4L546.7 204.9L546.8 202.4L546.9 200L546.8 197.7L546.7 195.2L546.6 192.9L546.4 190.9L546.3 189.5ZM542.8 187.7L541.8 188.4L540.5 189.3L538.9 190.4L537.2 191.5L535.8 192.7L534.4 194.1L533 195.6L531.7 197.1L530.5 198.4L529.7 199.3L530.3 199.7L531.1 198.8L532.2 197.5L533.5 196L534.9 194.6L536.2 193.3L537.7 192.1L539.3 190.9L540.9 189.9L542.2 188.9L543.2 188.3ZM517.3 175.2L517.6 174.6L518 173.8L518.4 172.9L518.9 172L519.3 171.2L519.7 170.5L520.2 169.8L520.6 169.1L521 168.6L521.3 168.2L520.7 167.8L520.4 168.2L520.1 168.7L519.6 169.4L519.1 170.1L518.7 170.8L518.3 171.6L517.8 172.6L517.3 173.5L517 174.3L516.7 174.8ZM454.4 307.4L453.7 306L452.8 304L451.7 301.7L450.4 299.4L449.2 297.3L447.9 295.5L446.6 293.8L445.1 292.1L443.6 290.5L441.8 289L439.8 287.5L437.6 286.1L435.3 284.7L432.9 283.5L430.4 282.5L427.9 281.7L425.3 281.1L422.6 280.7L419.9 280.5L417 280.5L413.8 280.8L410.4 281.3L406.9 282L403.6 282.8L400.7 283.7L398.3 284.6L396.1 285.6L394.2 286.7L392.4 287.8L390.6 288.9L388.7 290.2L386.9 291.6L385.1 293L383.7 294.2L382.6 295L383.4 296L384.4 295.2L385.9 294L387.7 292.7L389.5 291.3L391.4 290.1L393.2 289L395 288L396.8 287L398.9 286.1L401.3 285.3L404.1 284.5L407.3 283.8L410.7 283.2L414 282.7L417 282.5L419.8 282.5L422.4 282.8L424.9 283.2L427.3 283.8L429.6 284.5L431.9 285.5L434.2 286.7L436.3 288.1L438.4 289.5L440.2 291L441.8 292.4L443.2 293.9L444.5 295.4L445.7 297L446.8 298.7L448 300.7L449.1 303L450.1 305.2L451 307.2L451.6 308.6ZM385.1 294.1L384 294L382.5 293.7L380.7 293.5L378.8 293.3L377 293.2L375.1 293.2L373 293.4L371 293.7L369.2 293.9L368 294.1L368 294.7L369.3 294.6L371 294.4L373.1 294.2L375.1 294.1L377 294L378.8 294.1L380.6 294.4L382.4 294.6L383.9 294.9L384.9 295.1ZM384.7 294.2L383.6 294.9L382.1 296L380.3 297.2L378.4 298.4L376.8 299.7L375.1 300.9L373.4 302.3L371.7 303.6L370.3 304.7L369.3 305.5L369.7 306.1L370.7 305.3L372.2 304.2L373.8 302.9L375.6 301.6L377.2 300.3L378.9 299.2L380.8 297.9L382.6 296.7L384.2 295.7L385.3 295ZM426.2 281.7L424.8 281L422.9 279.9L420.6 278.7L418.3 277.6L416.1 276.7L413.9 276L411.6 275.4L409.4 274.9L407.4 274.5L406.1 274.2L405.9 274.8L407.3 275.1L409.2 275.5L411.4 276L413.7 276.6L415.9 277.3L418 278.2L420.3 279.4L422.6 280.5L424.5 281.6L425.8 282.3ZM382.2 296L382.2 297.1L382.3 298.6L382.4 300.4L382.4 302.3L382.4 304L382.4 305.7L382.4 307.6L382.3 309.4L382.2 310.9L382.2 312L382.8 312L382.9 310.9L383 309.4L383.1 307.6L383.1 305.7L383.2 304L383.1 302.3L383.1 300.4L383 298.6L382.9 297.1L382.8 296ZM460.4 328.4L461 327L461.8 325L462.8 322.8L463.8 320.5L464.8 318.5L465.9 316.7L467 315L468.2 313.3L469.4 311.7L470.7 310L472 308.3L473.3 306.6L474.7 304.9L476.1 303.4L477.5 302.1L479 301L480.5 300.1L482 299.3L483.6 298.7L485.2 298.2L486.9 297.9L488.6 297.7L490.4 297.7L492.2 297.8L493.8 298.1L495.4 298.7L497 299.4L498.5 300.3L500.1 301.3L501.6 302.5L503.2 303.8L504.9 305.4L506.5 307L508.1 308.7L509.6 310.3L511 312L512.2 313.6L513.4 315.3L514.6 316.9L515.6 318.3L516.6 319.6L517.6 320.7L518.5 321.8L519.2 322.6L519.7 323.3L520.3 322.7L519.8 322.1L519.1 321.2L518.3 320.2L517.3 319L516.4 317.7L515.3 316.3L514.2 314.7L513 313L511.8 311.3L510.4 309.7L508.9 308L507.3 306.2L505.7 304.5L504 302.9L502.4 301.5L500.8 300.3L499.2 299.2L497.6 298.2L495.9 297.4L494.2 296.9L492.3 296.5L490.5 296.3L488.5 296.3L486.7 296.5L484.8 296.8L483.1 297.3L481.4 297.9L479.7 298.7L478.1 299.7L476.5 300.9L474.9 302.3L473.5 303.8L472 305.5L470.6 307.3L469.3 309L468 310.6L466.7 312.3L465.5 314L464.3 315.7L463.2 317.5L462.1 319.7L461 322L460 324.3L459.2 326.2L458.6 327.6ZM511 311.3L512.1 311.4L513.6 311.5L515.4 311.6L517.3 311.7L519 311.8L520.7 312L522.6 312.1L524.4 312.2L525.9 312.3L527 312.3L527 311.7L525.9 311.6L524.4 311.5L522.6 311.4L520.7 311.3L519 311.2L517.3 311L515.4 310.9L513.6 310.8L512.1 310.7L511 310.7ZM489.7 280.9L489.4 282L489.1 283.5L488.6 285.3L488.2 287.2L487.7 288.9L487.1 290.6L486.4 292.5L485.7 294.2L485.1 295.8L484.7 296.9L485.3 297.1L485.7 296L486.4 294.5L487.1 292.7L487.7 290.8L488.3 289.1L488.8 287.4L489.3 285.5L489.7 283.7L490.1 282.2L490.3 281.1ZM496.2 298.3L497.2 297.7L498.6 296.9L500.2 296L501.8 295.1L503.2 294.3L504.4 293.7L505.5 293.1L506.6 292.6L507.5 292.1L508.2 291.8L507.8 291.2L507.2 291.5L506.3 291.9L505.2 292.5L504 293.1L502.8 293.7L501.4 294.5L499.8 295.4L498.2 296.3L496.8 297.1L495.8 297.7ZM501.7 302L501.5 303.2L501.3 305L501.1 307L500.9 309.1L500.7 310.9L500.4 312.7L500 314.6L499.7 316.4L499.4 317.9L499.2 318.9L499.8 319.1L500.1 318L500.4 316.5L500.7 314.7L501.1 312.9L501.3 311.1L501.6 309.2L501.8 307.1L502 305L502.2 303.3L502.3 302ZM458.5 263.9L458.4 262.3L458.2 260.1L458 257.5L457.8 254.6L457.4 251.7L456.8 248.7L456.2 245.6L455.5 242.3L454.7 238.9L453.8 235.5L452.8 232L451.7 228.4L450.6 224.7L449.5 221.1L448.4 217.5L447.4 213.9L446.4 210.5L445.5 207L444.6 203.4L443.8 199.7L443.1 195.5L442.5 191.2L441.9 186.6L441.3 182.1L440.7 177.8L440.2 173.6L439.6 169.4L439 165.4L438.5 161.5L438.1 157.9L437.8 154.4L437.5 151L437.4 147.9L437.3 144.9L437.4 142.1L437.5 139.4L437.7 137L438.1 134.7L438.5 132.5L439.1 130.4L439.8 128.3L440.6 126.3L441.6 124.4L442.6 122.6L443.7 121.1L444.9 119.8L446.2 118.7L447.5 117.7L448.9 116.9L450.3 116.2L451.7 115.6L453.3 115.2L454.8 114.9L456.1 114.7L457.1 114.5L456.9 113.5L456 113.6L454.6 113.7L453 114L451.3 114.3L449.7 114.8L448.2 115.5L446.7 116.3L445.1 117.3L443.7 118.5L442.3 119.9L441 121.5L439.8 123.3L438.7 125.3L437.7 127.5L436.9 129.6L436.2 131.9L435.6 134.2L435.2 136.6L434.9 139.2L434.6 141.9L434.5 144.9L434.5 147.9L434.5 151.2L434.7 154.6L434.9 158.1L435.2 161.9L435.7 165.8L436.2 169.9L436.7 174L437.3 178.2L437.8 182.6L438.3 187.1L438.9 191.6L439.5 196.1L440.2 200.3L441 204.3L441.8 207.9L442.7 211.5L443.6 215L444.6 218.5L445.6 222.2L446.7 225.9L447.8 229.5L448.9 233.1L449.8 236.5L450.6 239.9L451.3 243.2L452 246.4L452.6 249.5L453 252.3L453.4 255.1L453.6 257.8L453.7 260.4L453.8 262.6L453.9 264.1ZM454.3 262L454 280L453.7 300L453.3 340L452.7 400L452 422L451 432L452 438.4L463.6 438.4L464.4 432L462.8 422L461.4 400L460.1 340L459.4 300L459 280L458.6 262L456.4 256Z" fill="#0a1c0d" stroke="#0a1c0d" stroke-width="3.6" stroke-linejoin="round"/>
<path d="M453.6 436L453.7 437.4L453.7 439.3L453.8 441.6L453.8 443.9L453.8 445.9L453.8 447.8L453.9 449.5L453.8 451.1L453.8 452.8L453.7 454.6L453.5 456.5L453.1 458.6L452.8 460.8L452.4 463.1L452.1 465.5L451.9 468L451.7 470.4L451.5 472.9L451.4 475.4L451.3 477.9L451.3 480.3L451.3 482.8L451.3 485.3L451.5 487.8L451.8 490.4L452.2 493L452.9 495.6L453.5 498L454.1 500.4L454.7 502.5L455.1 504.6L455.5 506.6L455.8 508.4L456.1 510.3L456.3 512.1L456.4 514.2L456.4 516.4L456.3 518.6L456.3 520.5L456.3 521.9L460.9 522.1L461 520.7L461.1 518.8L461.3 516.5L461.4 514.1L461.3 511.9L461.2 509.8L461 507.7L460.8 505.7L460.5 503.7L460.1 501.5L459.7 499.1L459.1 496.6L458.6 494.2L458.1 491.9L457.8 489.6L457.7 487.4L457.6 485.1L457.7 482.8L457.8 480.5L457.9 478.1L458.1 475.8L458.3 473.4L458.5 471.1L458.8 468.7L459.1 466.5L459.5 464.3L459.9 462.1L460.3 459.9L460.8 457.6L461.1 455.4L461.4 453.4L461.5 451.5L461.6 449.7L461.7 447.9L461.8 446.1L461.8 443.9L461.9 441.6L461.9 439.3L462 437.4L462 436ZM456.2 518.9L456.2 520.4L456.2 522.5L456.2 525L456.2 527.6L456.1 529.9L456.1 532L456.1 534L456.1 536L456.1 538L456.2 540L456.3 542L456.4 544.1L456.5 546.1L456.7 547.8L456.8 549L458.4 549L458.5 547.8L458.6 546.1L458.6 544.1L458.7 542L458.8 540L459 538.1L459.2 536.2L459.4 534.2L459.6 532.2L459.9 530.1L460.1 527.8L460.3 525.3L460.6 522.8L460.8 520.6L461 519.1ZM453.9 431.5L453 431.6L451.7 431.7L450.1 431.8L448.4 432L446.8 432.2L445.3 432.6L443.9 433L442.5 433.4L441.2 433.9L439.7 434.4L438.2 434.9L436.6 435.4L435.1 436L433.5 436.6L431.8 437.1L430.1 437.6L428.3 438.2L426.5 438.7L424.7 439.2L422.9 439.6L421 439.9L418.9 440.2L416.9 440.5L415.2 440.7L414 440.9L414 441.1L415.2 441L417 441L419 440.8L421.1 440.6L423.1 440.4L424.9 440.1L426.8 439.7L428.6 439.3L430.4 438.9L432.2 438.5L433.9 438.1L435.6 437.7L437.2 437.2L438.8 436.8L440.3 436.4L441.8 436.1L443.2 435.7L444.6 435.4L445.9 435.1L447.2 435L448.6 434.9L450.2 434.8L451.8 434.8L453.1 434.9L454.1 434.9ZM460.9 434.5L461.9 434.5L463.2 434.5L464.7 434.5L466.3 434.6L467.7 434.8L469 435L470.3 435.4L471.7 435.9L473.2 436.3L474.7 436.8L476.2 437.2L477.8 437.7L479.4 438.2L481.1 438.6L482.8 438.9L484.6 439.2L486.5 439.4L488.4 439.6L490.2 439.8L492 439.8L493.8 439.8L495.7 439.6L497.4 439.4L498.9 439.2L500 439.1L500 438.9L498.9 438.9L497.4 439L495.6 439L493.8 439.1L492 439L490.3 438.8L488.5 438.5L486.7 438.2L484.9 437.9L483.2 437.5L481.5 437L479.9 436.5L478.4 435.9L476.8 435.4L475.3 434.8L473.9 434.2L472.6 433.6L471.2 433.1L469.8 432.5L468.3 432L466.7 431.7L465 431.5L463.4 431.3L462 431.2L461.1 431.1ZM454.6 439.9L453.6 440.2L452.1 440.5L450.3 440.9L448.4 441.4L446.5 441.9L444.7 442.5L442.9 443.2L441 444L439.2 444.8L437.4 445.7L435.7 446.6L434 447.6L432.4 448.6L430.9 449.5L429.4 450.5L428.1 451.3L427 452.2L426 453L424.9 453.7L423.7 454.3L422.4 454.8L420.9 455.2L419.3 455.6L417.6 455.9L416 456.2L414.1 456.4L412 456.6L410 456.7L408.2 456.8L407 456.9L407 457.1L408.2 457.1L410 457.2L412.1 457.2L414.1 457.1L416 457L417.8 456.9L419.5 456.7L421.1 456.5L422.7 456.1L424.3 455.7L425.7 455.2L426.9 454.5L428.1 453.8L429.3 453.1L430.6 452.3L432 451.6L433.6 450.7L435.3 449.9L436.9 449L438.6 448.3L440.3 447.6L442.1 446.9L444 446.3L445.8 445.8L447.5 445.3L449.2 444.9L451 444.6L452.8 444.4L454.3 444.2L455.4 444.1ZM459.6 444.1L460.8 444.2L462.6 444.5L464.6 444.9L466.7 445.3L468.5 445.7L470.1 446.1L471.8 446.6L473.3 447.2L474.9 447.7L476.4 448.3L477.9 448.9L479.3 449.5L480.7 450.2L482.1 450.9L483.5 451.6L484.8 452.3L486.2 453.1L487.6 453.9L489.1 454.6L490.7 455.3L492.4 455.9L494.2 456.4L496.1 456.9L498 457.3L499.9 457.6L502.1 457.9L504.4 458L506.7 458.1L508.6 458.1L510 458.1L510 457.9L508.6 457.8L506.7 457.6L504.4 457.4L502.1 457.1L500.1 456.8L498.2 456.3L496.4 455.8L494.6 455.2L492.9 454.6L491.3 453.9L489.9 453.1L488.5 452.3L487.2 451.4L485.9 450.5L484.5 449.6L483.2 448.8L481.8 448L480.5 447.2L479.1 446.4L477.6 445.7L476.1 445L474.5 444.3L472.9 443.6L471.2 442.9L469.5 442.3L467.6 441.7L465.4 441.2L463.4 440.7L461.6 440.3L460.4 439.9ZM453.6 490L452.5 490.4L450.9 490.9L449.1 491.6L447.2 492.3L445.6 493L444.2 493.7L442.8 494.4L441.6 495.2L440.3 496.1L439.1 497L437.9 498.2L436.7 499.5L435.5 500.9L434.6 502.1L433.9 502.9L434.1 503.1L434.9 502.4L436 501.3L437.2 500.1L438.6 498.9L439.9 498L441.1 497.2L442.3 496.6L443.6 496L445 495.5L446.4 495L448 494.5L449.9 494.1L451.7 493.6L453.3 493.3L454.4 493ZM457.4 496.1L458.2 497L459.3 498.3L460.5 499.9L461.8 501.5L463 502.8L464.1 503.9L465.2 504.9L466.2 505.8L467.4 506.7L468.6 507.6L470 508.4L471.6 509.3L473.1 510L474.5 510.7L475.4 511.1L475.6 510.9L474.7 510.3L473.5 509.4L472 508.5L470.6 507.4L469.4 506.4L468.4 505.5L467.5 504.5L466.7 503.5L465.9 502.4L465 501.2L464.1 499.8L463 498.1L462 496.5L461.1 495L460.6 493.9ZM454.6 461L453.9 461.4L453 461.9L451.8 462.5L450.7 463.2L449.6 464L448.7 465L447.8 466.1L447 467.2L446.4 468.2L445.9 468.9L446.1 469.1L446.7 468.5L447.5 467.6L448.4 466.6L449.4 465.7L450.4 465L451.4 464.4L452.5 464L453.7 463.5L454.7 463.2L455.4 463Z" fill="#f3dc6a"/>
<path d="M437.1 137.7L435.9 137.2L434.1 136.4L432.1 135.6L430 134.8L428.1 134.2L426.3 133.8L424.4 133.5L422.6 133.4L421.1 133.2L420 133.2L420 133.8L421 133.9L422.5 134.1L424.3 134.2L426.1 134.5L427.9 134.8L429.8 135.4L431.8 136.2L433.9 137.1L435.6 137.8L436.9 138.3ZM437.2 162.5L436 162L434.2 161.3L432.2 160.4L430.1 159.5L428.2 158.6L426.4 157.7L424.7 156.7L422.9 155.8L421 154.9L419.1 154.1L417 153.5L414.7 153.1L412.4 152.7L410.4 152.4L409.1 152.2L408.9 152.8L410.3 153.1L412.3 153.4L414.5 153.8L416.8 154.3L418.9 154.9L420.7 155.6L422.5 156.5L424.2 157.5L426 158.5L427.8 159.4L429.8 160.3L431.8 161.3L433.9 162.2L435.6 162.9L436.8 163.5ZM385.1 294.1L384 294L382.5 293.7L380.7 293.5L378.8 293.3L377 293.2L375.1 293.2L373 293.4L371 293.7L369.2 293.9L368 294.1L368 294.7L369.3 294.6L371 294.4L373.1 294.2L375.1 294.1L377 294L378.8 294.1L380.6 294.4L382.4 294.6L383.9 294.9L384.9 295.1ZM384.7 294.2L383.6 294.9L382.1 296L380.3 297.2L378.4 298.4L376.8 299.7L375.1 300.9L373.4 302.3L371.7 303.6L370.3 304.7L369.3 305.5L369.7 306.1L370.7 305.3L372.2 304.2L373.8 302.9L375.6 301.6L377.2 300.3L378.9 299.2L380.8 297.9L382.6 296.7L384.2 295.7L385.3 295Z" fill="#23461f"/>
<path d="M448.6 225L447.7 224L446.3 222.5L444.7 220.7L442.9 218.7L440.9 216.9L438.7 215L436.4 213.1L433.9 211.1L431.3 209.1L428.7 207.1L426 205.2L423.2 203.1L420.3 201.1L417.4 199.2L414.4 197.5L411.5 195.8L408.6 194.3L405.6 192.9L402.5 191.7L399.2 190.6L395.4 189.6L391.3 188.7L387.1 188L383.6 187.5L381.1 187.1L380.9 187.9L383.4 188.4L387 189.1L391 189.9L395.2 190.8L398.8 191.8L402 193L405 194.3L407.9 195.7L410.7 197.3L413.6 198.9L416.4 200.7L419.2 202.7L422 204.7L424.7 206.8L427.3 208.9L429.9 210.9L432.4 212.9L434.9 214.9L437.1 216.9L439.1 218.7L441 220.6L442.7 222.5L444.2 224.3L445.4 225.9L446.4 227ZM394.7 189.9L394.4 191L394 192.5L393.6 194.3L393.1 196.2L392.7 197.9L392.2 199.6L391.8 201.5L391.3 203.3L390.9 204.8L390.7 205.9L391.3 206.1L391.6 205L392 203.5L392.4 201.7L392.9 199.8L393.3 198.1L393.8 196.4L394.2 194.5L394.7 192.7L395.1 191.2L395.3 190.1ZM435.8 213.2L435 213.6L433.8 214.3L432.4 215L431 215.9L429.8 216.7L428.6 217.7L427.4 218.9L426.3 220L425.4 221.1L424.7 221.8L425.3 222.2L425.9 221.5L426.8 220.5L427.9 219.4L429.1 218.2L430.2 217.3L431.4 216.4L432.8 215.6L434.1 214.9L435.3 214.3L436.2 213.8ZM458.7 264.2L458.8 262.3L459 259.8L459.3 256.8L459.6 253.5L460.1 250.3L460.8 247L461.6 243.4L462.5 239.7L463.5 236L464.5 232.5L465.6 229.2L466.8 226L468 222.9L469.4 219.8L470.7 216.6L472.2 213.4L473.7 210.1L475.3 206.8L477 203.7L478.7 200.7L480.4 197.8L482.1 195.1L483.9 192.5L485.8 190.1L487.8 187.9L490.1 185.8L492.4 184L494.9 182.3L497.6 180.8L500.4 179.5L503.5 178.3L506.9 177.3L510.4 176.5L513.8 176L516.9 175.9L519.8 176.3L522.6 177.3L525.3 178.5L528 179.9L530.6 181.2L533.1 182.5L535.5 184.1L537.8 185.6L540.2 187L542.8 188.1L545.8 188.7L549.1 188.9L552.3 189L555.1 188.9L557 188.9L557 188.1L555.1 188L552.3 188L549.2 187.8L546 187.5L543.2 186.9L540.8 185.9L538.5 184.5L536.2 182.9L533.9 181.3L531.4 179.8L528.7 178.5L526 177L523.2 175.7L520.2 174.7L517.1 174.1L513.7 174.1L510.1 174.6L506.4 175.3L502.9 176.4L499.6 177.5L496.6 178.8L493.8 180.4L491.1 182.1L488.6 184L486.2 186.1L483.9 188.5L481.9 191L480 193.7L478.1 196.4L476.3 199.3L474.6 202.3L472.8 205.5L471.2 208.8L469.6 212.1L468.1 215.4L466.6 218.6L465.2 221.7L463.9 224.9L462.6 228.1L461.5 231.5L460.3 235.1L459.3 238.8L458.3 242.6L457.4 246.3L456.7 249.7L456.1 253L455.7 256.4L455.3 259.4L455.1 262L454.9 263.8ZM499.7 177.9L499.4 179L499 180.5L498.5 182.3L498.1 184.2L497.7 185.9L497.3 187.7L496.9 189.5L496.6 191.3L496.4 192.9L496.2 193.9L496.8 194.1L497 193L497.3 191.4L497.6 189.6L498 187.8L498.3 186.1L498.7 184.4L499.2 182.5L499.7 180.7L500.1 179.2L500.3 178.1ZM545.7 189.5L545.7 190.9L545.9 192.9L546 195.3L546.1 197.7L546.1 200L546.1 202.3L546 204.9L545.9 207.3L545.7 209.5L545.7 211L546.3 211L546.4 209.5L546.6 207.4L546.7 204.9L546.8 202.4L546.9 200L546.8 197.7L546.7 195.2L546.6 192.9L546.4 190.9L546.3 189.5ZM542.8 187.7L541.8 188.4L540.5 189.3L538.9 190.4L537.2 191.5L535.8 192.7L534.4 194.1L533 195.6L531.7 197.1L530.5 198.4L529.7 199.3L530.3 199.7L531.1 198.8L532.2 197.5L533.5 196L534.9 194.6L536.2 193.3L537.7 192.1L539.3 190.9L540.9 189.9L542.2 188.9L543.2 188.3ZM517.3 175.2L517.6 174.6L518 173.8L518.4 172.9L518.9 172L519.3 171.2L519.7 170.5L520.2 169.8L520.6 169.1L521 168.6L521.3 168.2L520.7 167.8L520.4 168.2L520.1 168.7L519.6 169.4L519.1 170.1L518.7 170.8L518.3 171.6L517.8 172.6L517.3 173.5L517 174.3L516.7 174.8ZM454.4 307.4L453.7 306L452.8 304L451.7 301.7L450.4 299.4L449.2 297.3L447.9 295.5L446.6 293.8L445.1 292.1L443.6 290.5L441.8 289L439.8 287.5L437.6 286.1L435.3 284.7L432.9 283.5L430.4 282.5L427.9 281.7L425.3 281.1L422.6 280.7L419.9 280.5L417 280.5L413.8 280.8L410.4 281.3L406.9 282L403.6 282.8L400.7 283.7L398.3 284.6L396.1 285.6L394.2 286.7L392.4 287.8L390.6 288.9L388.7 290.2L386.9 291.6L385.1 293L383.7 294.2L382.6 295L383.4 296L384.4 295.2L385.9 294L387.7 292.7L389.5 291.3L391.4 290.1L393.2 289L395 288L396.8 287L398.9 286.1L401.3 285.3L404.1 284.5L407.3 283.8L410.7 283.2L414 282.7L417 282.5L419.8 282.5L422.4 282.8L424.9 283.2L427.3 283.8L429.6 284.5L431.9 285.5L434.2 286.7L436.3 288.1L438.4 289.5L440.2 291L441.8 292.4L443.2 293.9L444.5 295.4L445.7 297L446.8 298.7L448 300.7L449.1 303L450.1 305.2L451 307.2L451.6 308.6ZM426.2 281.7L424.8 281L422.9 279.9L420.6 278.7L418.3 277.6L416.1 276.7L413.9 276L411.6 275.4L409.4 274.9L407.4 274.5L406.1 274.2L405.9 274.8L407.3 275.1L409.2 275.5L411.4 276L413.7 276.6L415.9 277.3L418 278.2L420.3 279.4L422.6 280.5L424.5 281.6L425.8 282.3ZM382.2 296L382.2 297.1L382.3 298.6L382.4 300.4L382.4 302.3L382.4 304L382.4 305.7L382.4 307.6L382.3 309.4L382.2 310.9L382.2 312L382.8 312L382.9 310.9L383 309.4L383.1 307.6L383.1 305.7L383.2 304L383.1 302.3L383.1 300.4L383 298.6L382.9 297.1L382.8 296ZM460.4 328.4L461 327L461.8 325L462.8 322.8L463.8 320.5L464.8 318.5L465.9 316.7L467 315L468.2 313.3L469.4 311.7L470.7 310L472 308.3L473.3 306.6L474.7 304.9L476.1 303.4L477.5 302.1L479 301L480.5 300.1L482 299.3L483.6 298.7L485.2 298.2L486.9 297.9L488.6 297.7L490.4 297.7L492.2 297.8L493.8 298.1L495.4 298.7L497 299.4L498.5 300.3L500.1 301.3L501.6 302.5L503.2 303.8L504.9 305.4L506.5 307L508.1 308.7L509.6 310.3L511 312L512.2 313.6L513.4 315.3L514.6 316.9L515.6 318.3L516.6 319.6L517.6 320.7L518.5 321.8L519.2 322.6L519.7 323.3L520.3 322.7L519.8 322.1L519.1 321.2L518.3 320.2L517.3 319L516.4 317.7L515.3 316.3L514.2 314.7L513 313L511.8 311.3L510.4 309.7L508.9 308L507.3 306.2L505.7 304.5L504 302.9L502.4 301.5L500.8 300.3L499.2 299.2L497.6 298.2L495.9 297.4L494.2 296.9L492.3 296.5L490.5 296.3L488.5 296.3L486.7 296.5L484.8 296.8L483.1 297.3L481.4 297.9L479.7 298.7L478.1 299.7L476.5 300.9L474.9 302.3L473.5 303.8L472 305.5L470.6 307.3L469.3 309L468 310.6L466.7 312.3L465.5 314L464.3 315.7L463.2 317.5L462.1 319.7L461 322L460 324.3L459.2 326.2L458.6 327.6ZM511 311.3L512.1 311.4L513.6 311.5L515.4 311.6L517.3 311.7L519 311.8L520.7 312L522.6 312.1L524.4 312.2L525.9 312.3L527 312.3L527 311.7L525.9 311.6L524.4 311.5L522.6 311.4L520.7 311.3L519 311.2L517.3 311L515.4 310.9L513.6 310.8L512.1 310.7L511 310.7ZM489.7 280.9L489.4 282L489.1 283.5L488.6 285.3L488.2 287.2L487.7 288.9L487.1 290.6L486.4 292.5L485.7 294.2L485.1 295.8L484.7 296.9L485.3 297.1L485.7 296L486.4 294.5L487.1 292.7L487.7 290.8L488.3 289.1L488.8 287.4L489.3 285.5L489.7 283.7L490.1 282.2L490.3 281.1ZM496.2 298.3L497.2 297.7L498.6 296.9L500.2 296L501.8 295.1L503.2 294.3L504.4 293.7L505.5 293.1L506.6 292.6L507.5 292.1L508.2 291.8L507.8 291.2L507.2 291.5L506.3 291.9L505.2 292.5L504 293.1L502.8 293.7L501.4 294.5L499.8 295.4L498.2 296.3L496.8 297.1L495.8 297.7ZM501.7 302L501.5 303.2L501.3 305L501.1 307L500.9 309.1L500.7 310.9L500.4 312.7L500 314.6L499.7 316.4L499.4 317.9L499.2 318.9L499.8 319.1L500.1 318L500.4 316.5L500.7 314.7L501.1 312.9L501.3 311.1L501.6 309.2L501.8 307.1L502 305L502.2 303.3L502.3 302ZM458.5 263.9L458.4 262.3L458.2 260.1L458 257.5L457.8 254.6L457.4 251.7L456.8 248.7L456.2 245.6L455.5 242.3L454.7 238.9L453.8 235.5L452.8 232L451.7 228.4L450.6 224.7L449.5 221.1L448.4 217.5L447.4 213.9L446.4 210.5L445.5 207L444.6 203.4L443.8 199.7L443.1 195.5L442.5 191.2L441.9 186.6L441.3 182.1L440.7 177.8L440.2 173.6L439.6 169.4L439 165.4L438.5 161.5L438.1 157.9L437.8 154.4L437.5 151L437.4 147.9L437.3 144.9L437.4 142.1L437.5 139.4L437.7 137L438.1 134.7L438.5 132.5L439.1 130.4L439.8 128.3L440.6 126.3L441.6 124.4L442.6 122.6L443.7 121.1L444.9 119.8L446.2 118.7L447.5 117.7L448.9 116.9L450.3 116.2L451.7 115.6L453.3 115.2L454.8 114.9L456.1 114.7L457.1 114.5L456.9 113.5L456 113.6L454.6 113.7L453 114L451.3 114.3L449.7 114.8L448.2 115.5L446.7 116.3L445.1 117.3L443.7 118.5L442.3 119.9L441 121.5L439.8 123.3L438.7 125.3L437.7 127.5L436.9 129.6L436.2 131.9L435.6 134.2L435.2 136.6L434.9 139.2L434.6 141.9L434.5 144.9L434.5 147.9L434.5 151.2L434.7 154.6L434.9 158.1L435.2 161.9L435.7 165.8L436.2 169.9L436.7 174L437.3 178.2L437.8 182.6L438.3 187.1L438.9 191.6L439.5 196.1L440.2 200.3L441 204.3L441.8 207.9L442.7 211.5L443.6 215L444.6 218.5L445.6 222.2L446.7 225.9L447.8 229.5L448.9 233.1L449.8 236.5L450.6 239.9L451.3 243.2L452 246.4L452.6 249.5L453 252.3L453.4 255.1L453.6 257.8L453.7 260.4L453.8 262.6L453.9 264.1ZM454.3 262L454 280L453.7 300L453.3 340L452.7 400L452 422L451 432L452 438.4L463.6 438.4L464.4 432L462.8 422L461.4 400L460.1 340L459.4 300L459 280L458.6 262L456.4 256Z" fill="#90d34a"/>
<path d="M455 264C454.8 300 454.6 350 454 428" stroke="#5aa836" stroke-width="1.1" fill="none"/>
<path d="M459 270C459.4 300 460 340 461.2 400L462.6 428" stroke="#2f6a24" stroke-width="1.2" fill="none" opacity=".8"/>
<path d="M453.5 238C452.4 234.8 448.9 225.3 447 219C445.1 212.7 443.5 206.8 442.2 200C440.9 193.2 440.1 185 439.2 178C438.3 171 437.4 164 437 158C436.6 152 436.8 144.7 436.8 142" stroke="#4f9e2e" stroke-width="1" fill="none"/>
<clipPath id="lf4"><path d="M454 117L454.3 116.3L454.7 115.6L455.1 114.8L455.5 114.1L456 113.4L456.5 112.7L457 112L457.5 111.4L458.1 110.7L458.8 110.1L459.4 109.5L460.1 108.9L460.9 108.3L461.7 107.8L462.6 107.4L463.8 107.7L465 108.1L466 108.2L467 107.9L468 107.7L469 107.5L470 107.5L471.1 107.6L472.2 107.8L473.3 108.1L474.4 108.4L475.5 108.8L476.5 109.2L477.5 109.7L478.1 110.7L478.3 111.9L478.4 113.1L479 113.9L479.8 114.6L480.6 115.3L481.5 116L482.4 116.8L483.3 117.6L484.2 118.4L485.1 119.2L485.9 120.1L486.7 121L487.5 122L487.7 123.2L487.5 124.7L487.4 126L488.1 127L488.7 128L489.2 129.1L489.7 130.2L490.1 131.4L490.4 132.7L490.7 134L491 135.3L491.3 136.6L491.5 137.9L490.7 139.3L489.8 140.7L490.2 141.9L490.5 143.2L490.9 144.5L491.2 145.7L491.6 147L492 148.3L492.5 149.8L493 151.4L493.3 152.9L493.4 154.3L493.4 155.3L493.2 155.8L492.6 155.8L491.7 155.5L490.5 154.9L489.3 154L488.2 152.9L487.1 151.7L486.1 150.8L485.2 150L484.3 149.2L483.3 148.8L481.8 149.3L480.5 149.4L479.6 148.7L478.8 148L477.9 147.4L477 146.8L476 146.2L475.1 145.6L474.2 144.9L473.3 144.3L472.2 144.1L470.7 144.5L469.4 144.2L468.5 143.4L467.6 142.5L466.8 141.6L465.9 140.7L465.2 139.8L464.5 138.9L463.8 138L462.9 137.3L461.4 137.3L460.1 136.9L459.6 135.9L459 134.9L458.5 133.8L458.1 132.8L457.7 131.7L457.3 130.6L457 129.6L456.7 128.5L455.9 127.8L454.7 127.3L453.9 126.5L453.8 125.6L453.7 124.6L453.6 123.7L453.5 122.8L453.4 122L453.4 121.2L453.4 120.5L453.5 119.8L453.6 119.1L453.7 118.4L453.8 117.7Z"/></clipPath>
<g clip-path="url(#lf4)">
<rect x="449.5" y="103.2" width="47.7" height="56.6" fill="#a4dc58"/>
<path d="M466 122C465.7 123.7 464 129.3 464 132C464 134.7 465.7 137 466 138M472 128C471.8 129.7 470.7 135.5 471 138C471.3 140.5 473.5 142.2 474 143M479 137C479.2 138.3 479.8 143.7 480 145M468 123C469.3 122 474.7 118 476 117M475 131C476.5 130.2 482.5 126.8 484 126M481 139C482.2 138.8 486.8 138.2 488 138" fill="none" stroke="#5a9e32" stroke-width="3.3" stroke-linecap="round" opacity=".8"/>
<path d="M466 122C465.7 123.7 464 129.3 464 132C464 134.7 465.7 137 466 138M472 128C471.8 129.7 470.7 135.5 471 138C471.3 140.5 473.5 142.2 474 143M479 137C479.2 138.3 479.8 143.7 480 145M468 123C469.3 122 474.7 118 476 117M475 131C476.5 130.2 482.5 126.8 484 126M481 139C482.2 138.8 486.8 138.2 488 138" fill="none" stroke="#0a1c0d" stroke-width="1.15" stroke-linecap="round"/>
<path d="M456 114.5C457.7 115.8 462.5 118.8 466 122C469.5 125.2 473.7 130 477 134C480.3 138 483.5 142.6 486 146C488.5 149.4 491 153.1 492 154.5" fill="none" stroke="#5a9e32" stroke-width="5" stroke-linecap="round" opacity=".5"/>
<path d="M456 114.5C457.7 115.8 462.5 118.8 466 122C469.5 125.2 473.7 130 477 134C480.3 138 483.5 142.6 486 146C488.5 149.4 491 153.1 492 154.5" fill="none" stroke="#0a1c0d" stroke-width="1.9" stroke-linecap="round"/>
</g>
<path d="M454 117L454.3 116.3L454.7 115.6L455.1 114.8L455.5 114.1L456 113.4L456.5 112.7L457 112L457.5 111.4L458.1 110.7L458.8 110.1L459.4 109.5L460.1 108.9L460.9 108.3L461.7 107.8L462.6 107.4L463.8 107.7L465 108.1L466 108.2L467 107.9L468 107.7L469 107.5L470 107.5L471.1 107.6L472.2 107.8L473.3 108.1L474.4 108.4L475.5 108.8L476.5 109.2L477.5 109.7L478.1 110.7L478.3 111.9L478.4 113.1L479 113.9L479.8 114.6L480.6 115.3L481.5 116L482.4 116.8L483.3 117.6L484.2 118.4L485.1 119.2L485.9 120.1L486.7 121L487.5 122L487.7 123.2L487.5 124.7L487.4 126L488.1 127L488.7 128L489.2 129.1L489.7 130.2L490.1 131.4L490.4 132.7L490.7 134L491 135.3L491.3 136.6L491.5 137.9L490.7 139.3L489.8 140.7L490.2 141.9L490.5 143.2L490.9 144.5L491.2 145.7L491.6 147L492 148.3L492.5 149.8L493 151.4L493.3 152.9L493.4 154.3L493.4 155.3L493.2 155.8L492.6 155.8L491.7 155.5L490.5 154.9L489.3 154L488.2 152.9L487.1 151.7L486.1 150.8L485.2 150L484.3 149.2L483.3 148.8L481.8 149.3L480.5 149.4L479.6 148.7L478.8 148L477.9 147.4L477 146.8L476 146.2L475.1 145.6L474.2 144.9L473.3 144.3L472.2 144.1L470.7 144.5L469.4 144.2L468.5 143.4L467.6 142.5L466.8 141.6L465.9 140.7L465.2 139.8L464.5 138.9L463.8 138L462.9 137.3L461.4 137.3L460.1 136.9L459.6 135.9L459 134.9L458.5 133.8L458.1 132.8L457.7 131.7L457.3 130.6L457 129.6L456.7 128.5L455.9 127.8L454.7 127.3L453.9 126.5L453.8 125.6L453.7 124.6L453.6 123.7L453.5 122.8L453.4 122L453.4 121.2L453.4 120.5L453.5 119.8L453.6 119.1L453.7 118.4L453.8 117.7Z" fill="none" stroke="#0a1c0d" stroke-width="1.9" stroke-linejoin="round"/>
<clipPath id="lf5"><path d="M410 152.5L409.8 151.8L409.3 151L408.5 150.1L407.5 149.1L406.5 148.2L405.5 147.2L404.7 146.3L403.8 145.4L403 144.5L402.1 143.6L400.8 143.3L399.4 143.4L398.2 143.3L397.2 142.6L396.3 142L395.3 141.4L394.3 140.9L393.3 140.4L392.3 140L391.2 139.6L390.1 139.3L388.9 139L387.8 138.8L386.6 139.2L385.5 140.2L384.4 141L383.3 140.9L382.1 141L380.9 141.1L379.7 141.3L378.5 141.6L377.3 142L376 142.3L374.8 142.7L373.5 143.1L372.5 143.8L371.8 145.3L370.9 146.6L369.7 147L368.4 147.5L367.2 147.9L366 148.5L364.8 149.1L363.6 149.7L362.4 150.4L361.2 151.1L360 151.9L359.8 153.5L359.6 155.1L358.7 155.9L357.8 156.7L356.9 157.5L356 158.3L355.2 159.1L354.4 160L353.8 160.8L353.1 161.7L352.5 162.7L351.8 163.6L351.4 164.6L351.2 165.6L351 166.4L351 167L351.3 167.5L351.9 167.9L352.6 168.4L353.5 168.8L354.5 169L355.5 169.2L356.5 169.3L357.4 169.3L358.5 169.3L359.6 169.2L360.7 169.1L361.8 168.9L362.9 168.7L364 169.5L365.3 170.3L366.5 170L367.6 169.5L368.7 168.9L369.8 168.4L370.8 167.8L371.9 167.3L373 166.7L374.1 166.2L375.2 165.9L376.6 166.7L378 167.2L379.1 166.7L380.2 166.1L381.3 165.5L382.3 164.9L383.4 164.2L384.4 163.5L385.5 162.9L386.5 162.2L387.9 162.3L389.5 162.9L390.7 162.4L391.7 161.6L392.8 160.9L393.8 160.2L394.8 159.4L395.9 158.7L397 158L398.1 157.3L399.4 157.4L400.9 158L402.1 157.6L403.1 156.9L404.1 156.3L405.1 155.7L406.2 155.1L407.3 154.6L408.3 154.1L409.1 153.6L409.7 153.1Z"/></clipPath>
<g clip-path="url(#lf5)">
<rect x="347" y="136" width="67" height="37.5" fill="#a4dc58"/>
<path d="M396 153C394.7 151.8 390.7 147.5 388 146C385.3 144.5 381.3 144.3 380 144M386 156C384.5 155 379.8 151 377 150C374.2 149 370.3 150 369 150M375 160C373.7 159.3 369.3 156.5 367 156C364.7 155.5 362 156.8 361 157M392 155C391 155.8 387 159.2 386 160M380 158.5C379 159.4 375 163.1 374 164M368 162.5C367 163.2 363 166.2 362 167" fill="none" stroke="#5a9e32" stroke-width="3.3" stroke-linecap="round" opacity=".8"/>
<path d="M396 153C394.7 151.8 390.7 147.5 388 146C385.3 144.5 381.3 144.3 380 144M386 156C384.5 155 379.8 151 377 150C374.2 149 370.3 150 369 150M375 160C373.7 159.3 369.3 156.5 367 156C364.7 155.5 362 156.8 361 157M392 155C391 155.8 387 159.2 386 160M380 158.5C379 159.4 375 163.1 374 164M368 162.5C367 163.2 363 166.2 362 167" fill="none" stroke="#0a1c0d" stroke-width="1.15" stroke-linecap="round"/>
<path d="M410 152.5C407.7 152.6 401 152.1 396 153C391 153.9 385.3 156.2 380 158C374.7 159.8 368.6 162.5 364 164C359.4 165.5 354.4 166.5 352.5 167" fill="none" stroke="#5a9e32" stroke-width="5" stroke-linecap="round" opacity=".5"/>
<path d="M410 152.5C407.7 152.6 401 152.1 396 153C391 153.9 385.3 156.2 380 158C374.7 159.8 368.6 162.5 364 164C359.4 165.5 354.4 166.5 352.5 167" fill="none" stroke="#0a1c0d" stroke-width="1.9" stroke-linecap="round"/>
</g>
<path d="M410 152.5L409.8 151.8L409.3 151L408.5 150.1L407.5 149.1L406.5 148.2L405.5 147.2L404.7 146.3L403.8 145.4L403 144.5L402.1 143.6L400.8 143.3L399.4 143.4L398.2 143.3L397.2 142.6L396.3 142L395.3 141.4L394.3 140.9L393.3 140.4L392.3 140L391.2 139.6L390.1 139.3L388.9 139L387.8 138.8L386.6 139.2L385.5 140.2L384.4 141L383.3 140.9L382.1 141L380.9 141.1L379.7 141.3L378.5 141.6L377.3 142L376 142.3L374.8 142.7L373.5 143.1L372.5 143.8L371.8 145.3L370.9 146.6L369.7 147L368.4 147.5L367.2 147.9L366 148.5L364.8 149.1L363.6 149.7L362.4 150.4L361.2 151.1L360 151.9L359.8 153.5L359.6 155.1L358.7 155.9L357.8 156.7L356.9 157.5L356 158.3L355.2 159.1L354.4 160L353.8 160.8L353.1 161.7L352.5 162.7L351.8 163.6L351.4 164.6L351.2 165.6L351 166.4L351 167L351.3 167.5L351.9 167.9L352.6 168.4L353.5 168.8L354.5 169L355.5 169.2L356.5 169.3L357.4 169.3L358.5 169.3L359.6 169.2L360.7 169.1L361.8 168.9L362.9 168.7L364 169.5L365.3 170.3L366.5 170L367.6 169.5L368.7 168.9L369.8 168.4L370.8 167.8L371.9 167.3L373 166.7L374.1 166.2L375.2 165.9L376.6 166.7L378 167.2L379.1 166.7L380.2 166.1L381.3 165.5L382.3 164.9L383.4 164.2L384.4 163.5L385.5 162.9L386.5 162.2L387.9 162.3L389.5 162.9L390.7 162.4L391.7 161.6L392.8 160.9L393.8 160.2L394.8 159.4L395.9 158.7L397 158L398.1 157.3L399.4 157.4L400.9 158L402.1 157.6L403.1 156.9L404.1 156.3L405.1 155.7L406.2 155.1L407.3 154.6L408.3 154.1L409.1 153.6L409.7 153.1Z" fill="none" stroke="#0a1c0d" stroke-width="1.9" stroke-linejoin="round"/>
<clipPath id="lf6"><path d="M381.5 188L381 186.9L380.5 185.9L380.1 184.8L379.7 183.8L379.2 182.7L378.8 181.8L378.2 180.8L377.6 179.9L376.9 179.1L376.1 178.2L375.1 177.8L373.8 178L372.6 178.2L371.8 177.7L370.9 177.2L370 176.9L369.1 176.5L368.1 176.3L367 176.1L366 176L364.9 175.9L363.8 176L362.7 176.1L361.5 176.3L360.8 177.6L360.2 178.9L359.3 179.6L358.3 180L357.4 180.5L356.4 181.1L355.4 181.8L354.5 182.5L353.5 183.3L352.6 184.1L351.8 185L350.9 185.9L351 187.4L351.3 188.9L350.8 190L350 191L349.3 192L348.6 193L347.9 194.1L347.2 195.2L346.5 196.4L345.8 197.6L345.2 198.8L345.5 200.2L346.2 201.7L346 202.8L345.5 203.9L345 204.9L344.6 205.9L344.3 207L344 208L343.7 209L343.5 210L343.3 211L343.2 212.1L343.1 213.1L343.3 214.1L343.5 214.9L343.8 215.5L344.4 215.9L345.1 216.3L345.9 216.7L346.9 216.9L348 216.9L349 216.8L350 216.7L351 216.5L351.9 216.2L352.9 215.8L353.8 215.5L354.8 215.1L356 215.7L357.3 216.5L358.3 216.1L359.2 215.6L360.2 215L361.1 214.4L362 213.7L362.9 213.1L363.9 212.6L364.8 212L365.8 211.5L367 212.2L368.3 212.9L369.3 212.6L370.3 212L371.2 211.5L372 210.8L372.8 210.2L373.6 209.5L374.4 208.9L375.1 208.2L375.7 207.4L376.7 207.1L378.1 207.3L379.3 207L379.9 206.2L380.5 205.3L381.1 204.3L381.6 203.4L382 202.5L382.3 201.5L382.6 200.6L382.9 199.6L383.1 198.6L384.3 198L385.3 197.1L385.2 196L384.8 194.8L384.3 193.7L383.7 192.6L383.1 191.5L382.5 190.3L381.9 189.1Z"/></clipPath>
<g clip-path="url(#lf6)">
<rect x="339.8" y="172.5" width="48.7" height="48" fill="#a4dc58"/>
<path d="M371 190.5C370.2 189.2 367.7 184.5 366 183C364.3 181.5 361.8 181.8 361 181.5M362 196C361 195 357.7 191 356 190C354.3 189 352.7 190 352 190M354 203C353.2 202.3 349.8 199.7 349 199M368 192C368 193.8 367.3 200.2 368 203C368.7 205.8 371.3 208 372 209M359 198C359.2 199.7 359.3 205.7 360 208C360.7 210.3 362.5 211.3 363 212M352 205.5C352 206.8 352 211.8 352 213" fill="none" stroke="#5a9e32" stroke-width="3.3" stroke-linecap="round" opacity=".8"/>
<path d="M371 190.5C370.2 189.2 367.7 184.5 366 183C364.3 181.5 361.8 181.8 361 181.5M362 196C361 195 357.7 191 356 190C354.3 189 352.7 190 352 190M354 203C353.2 202.3 349.8 199.7 349 199M368 192C368 193.8 367.3 200.2 368 203C368.7 205.8 371.3 208 372 209M359 198C359.2 199.7 359.3 205.7 360 208C360.7 210.3 362.5 211.3 363 212M352 205.5C352 206.8 352 211.8 352 213" fill="none" stroke="#0a1c0d" stroke-width="1.15" stroke-linecap="round"/>
<path d="M381.5 188.5C379.8 188.8 374.6 189.1 371 190.5C367.4 191.9 363.3 194.4 360 197C356.7 199.6 353.5 203.1 351 206C348.5 208.9 346 213.1 345 214.5" fill="none" stroke="#5a9e32" stroke-width="5" stroke-linecap="round" opacity=".5"/>
<path d="M381.5 188.5C379.8 188.8 374.6 189.1 371 190.5C367.4 191.9 363.3 194.4 360 197C356.7 199.6 353.5 203.1 351 206C348.5 208.9 346 213.1 345 214.5" fill="none" stroke="#0a1c0d" stroke-width="1.9" stroke-linecap="round"/>
</g>
<path d="M381.5 188L381 186.9L380.5 185.9L380.1 184.8L379.7 183.8L379.2 182.7L378.8 181.8L378.2 180.8L377.6 179.9L376.9 179.1L376.1 178.2L375.1 177.8L373.8 178L372.6 178.2L371.8 177.7L370.9 177.2L370 176.9L369.1 176.5L368.1 176.3L367 176.1L366 176L364.9 175.9L363.8 176L362.7 176.1L361.5 176.3L360.8 177.6L360.2 178.9L359.3 179.6L358.3 180L357.4 180.5L356.4 181.1L355.4 181.8L354.5 182.5L353.5 183.3L352.6 184.1L351.8 185L350.9 185.9L351 187.4L351.3 188.9L350.8 190L350 191L349.3 192L348.6 193L347.9 194.1L347.2 195.2L346.5 196.4L345.8 197.6L345.2 198.8L345.5 200.2L346.2 201.7L346 202.8L345.5 203.9L345 204.9L344.6 205.9L344.3 207L344 208L343.7 209L343.5 210L343.3 211L343.2 212.1L343.1 213.1L343.3 214.1L343.5 214.9L343.8 215.5L344.4 215.9L345.1 216.3L345.9 216.7L346.9 216.9L348 216.9L349 216.8L350 216.7L351 216.5L351.9 216.2L352.9 215.8L353.8 215.5L354.8 215.1L356 215.7L357.3 216.5L358.3 216.1L359.2 215.6L360.2 215L361.1 214.4L362 213.7L362.9 213.1L363.9 212.6L364.8 212L365.8 211.5L367 212.2L368.3 212.9L369.3 212.6L370.3 212L371.2 211.5L372 210.8L372.8 210.2L373.6 209.5L374.4 208.9L375.1 208.2L375.7 207.4L376.7 207.1L378.1 207.3L379.3 207L379.9 206.2L380.5 205.3L381.1 204.3L381.6 203.4L382 202.5L382.3 201.5L382.6 200.6L382.9 199.6L383.1 198.6L384.3 198L385.3 197.1L385.2 196L384.8 194.8L384.3 193.7L383.7 192.6L383.1 191.5L382.5 190.3L381.9 189.1Z" fill="none" stroke="#0a1c0d" stroke-width="1.9" stroke-linejoin="round"/>
<clipPath id="lf7"><path d="M519 168.5L518.8 167.5L518.7 166.5L518.8 165.4L518.8 164.3L519 163.1L519.1 162L519.3 160.9L519.5 159.9L519.8 158.8L520.1 157.7L520.4 156.6L521.3 155.9L522.6 155.5L523.7 155.1L524.2 154.3L524.8 153.5L525.5 152.8L526.3 152.1L527.1 151.4L527.9 150.8L528.9 150.2L529.9 149.6L530.9 149.1L532.1 148.6L533.3 148.1L534.6 148.8L535.9 149.6L537 149.6L538.2 149.4L539.3 149.2L540.4 149L541.6 148.9L542.7 148.9L543.9 148.9L545.1 148.9L546.4 149L547.6 149.2L548.8 149.7L549.6 151.1L550.4 152.3L551.6 152.6L552.8 153L553.9 153.3L555.1 153.6L556.2 154L557.3 154.4L558.4 154.8L559.4 155.3L560.5 155.8L561.6 156.3L562.2 157.5L562.5 158.9L563 160L563.9 160.6L564.9 161.2L565.8 161.7L566.7 162.2L567.5 162.7L568.3 163.2L569.1 163.7L569.8 164.2L570.5 164.7L571.2 165.2L571.9 165.7L572.7 166.1L573.5 166.6L574.2 167.1L574.8 167.5L575.2 167.8L575.2 168.2L574.8 168.5L574 169L573 169.6L571.8 169.9L570.4 170.2L569.2 170.3L568 170.4L566.9 170.5L565.9 170.6L564.8 170.7L563.8 170.7L563.1 171.9L562.3 173.1L561.3 173.4L560.1 173.5L558.9 173.7L557.7 173.9L556.5 174L555.2 174.2L554 174.2L552.9 174.2L551.8 174.7L550.7 175.8L549.5 176.2L548.4 175.9L547.3 175.6L546.1 175.3L545 175.1L543.8 174.9L542.6 174.8L541.4 174.6L540.3 174.5L539.2 175.6L538.2 176.8L537.1 176.7L536 176.6L535 176.5L533.9 176.4L532.9 176.3L531.9 176.1L531 175.9L530.1 175.6L529.2 175.3L528.4 174.9L527.3 175.6L526.2 175.9L525.3 175.7L524.5 175L523.8 174.3L523 173.6L522.3 172.8L521.5 172L520.8 171.1L520.1 170.3L519.5 169.4Z"/></clipPath>
<g clip-path="url(#lf7)">
<rect x="515" y="144.8" width="64.2" height="35.4" fill="#a4dc58"/>
<path d="M532 163C532.7 161.7 534.3 156.8 536 155C537.7 153.2 541 152.5 542 152M544 162C544.8 160.9 547.2 156.7 549 155.5C550.8 154.3 554 155.1 555 155M556 164C556.7 163.2 559.3 159.8 560 159M536 163.5C536.7 164.6 538.3 168.4 540 170C541.7 171.6 545 172.5 546 173M549 163.5C549.8 164.6 552.3 168.7 554 170C555.7 171.3 558.2 171.2 559 171.5" fill="none" stroke="#5a9e32" stroke-width="3.3" stroke-linecap="round" opacity=".8"/>
<path d="M532 163C532.7 161.7 534.3 156.8 536 155C537.7 153.2 541 152.5 542 152M544 162C544.8 160.9 547.2 156.7 549 155.5C550.8 154.3 554 155.1 555 155M556 164C556.7 163.2 559.3 159.8 560 159M536 163.5C536.7 164.6 538.3 168.4 540 170C541.7 171.6 545 172.5 546 173M549 163.5C549.8 164.6 552.3 168.7 554 170C555.7 171.3 558.2 171.2 559 171.5" fill="none" stroke="#0a1c0d" stroke-width="1.15" stroke-linecap="round"/>
<path d="M520 170C522 168.8 527.7 164.3 532 163C536.3 161.7 541.3 161.7 546 162C550.7 162.3 555.3 164 560 165C564.7 166 571.7 167.5 574 168" fill="none" stroke="#5a9e32" stroke-width="5" stroke-linecap="round" opacity=".5"/>
<path d="M520 170C522 168.8 527.7 164.3 532 163C536.3 161.7 541.3 161.7 546 162C550.7 162.3 555.3 164 560 165C564.7 166 571.7 167.5 574 168" fill="none" stroke="#0a1c0d" stroke-width="1.9" stroke-linecap="round"/>
</g>
<path d="M519 168.5L518.8 167.5L518.7 166.5L518.8 165.4L518.8 164.3L519 163.1L519.1 162L519.3 160.9L519.5 159.9L519.8 158.8L520.1 157.7L520.4 156.6L521.3 155.9L522.6 155.5L523.7 155.1L524.2 154.3L524.8 153.5L525.5 152.8L526.3 152.1L527.1 151.4L527.9 150.8L528.9 150.2L529.9 149.6L530.9 149.1L532.1 148.6L533.3 148.1L534.6 148.8L535.9 149.6L537 149.6L538.2 149.4L539.3 149.2L540.4 149L541.6 148.9L542.7 148.9L543.9 148.9L545.1 148.9L546.4 149L547.6 149.2L548.8 149.7L549.6 151.1L550.4 152.3L551.6 152.6L552.8 153L553.9 153.3L555.1 153.6L556.2 154L557.3 154.4L558.4 154.8L559.4 155.3L560.5 155.8L561.6 156.3L562.2 157.5L562.5 158.9L563 160L563.9 160.6L564.9 161.2L565.8 161.7L566.7 162.2L567.5 162.7L568.3 163.2L569.1 163.7L569.8 164.2L570.5 164.7L571.2 165.2L571.9 165.7L572.7 166.1L573.5 166.6L574.2 167.1L574.8 167.5L575.2 167.8L575.2 168.2L574.8 168.5L574 169L573 169.6L571.8 169.9L570.4 170.2L569.2 170.3L568 170.4L566.9 170.5L565.9 170.6L564.8 170.7L563.8 170.7L563.1 171.9L562.3 173.1L561.3 173.4L560.1 173.5L558.9 173.7L557.7 173.9L556.5 174L555.2 174.2L554 174.2L552.9 174.2L551.8 174.7L550.7 175.8L549.5 176.2L548.4 175.9L547.3 175.6L546.1 175.3L545 175.1L543.8 174.9L542.6 174.8L541.4 174.6L540.3 174.5L539.2 175.6L538.2 176.8L537.1 176.7L536 176.6L535 176.5L533.9 176.4L532.9 176.3L531.9 176.1L531 175.9L530.1 175.6L529.2 175.3L528.4 174.9L527.3 175.6L526.2 175.9L525.3 175.7L524.5 175L523.8 174.3L523 173.6L522.3 172.8L521.5 172L520.8 171.1L520.1 170.3L519.5 169.4Z" fill="none" stroke="#0a1c0d" stroke-width="1.9" stroke-linejoin="round"/>
<clipPath id="lf8"><path d="M550.5 192L550.8 191.3L551.2 190.6L551.7 189.9L552.2 189.2L552.7 188.6L553.3 188L554 187.5L554.7 187L555.4 186.6L556.3 186.2L557.1 185.8L558 185.4L559 185.1L559.9 185L560.9 185.6L561.9 186.3L562.9 186.7L563.9 186.6L564.9 186.5L565.9 186.5L567 186.6L568 186.7L569.1 186.9L570.2 187.1L571.3 187.4L572.5 187.7L573.6 188L574.4 188.8L574.9 190.2L575.3 191.5L576.3 192L577.2 192.5L578.2 193.1L579.1 193.8L580 194.5L580.9 195.2L581.8 196L582.6 196.8L583.4 197.6L584.2 198.5L584.5 199.7L584.3 201.1L584.3 202.4L585 203.3L585.7 204.2L586.4 205.1L587 206L587.6 206.9L588.3 207.9L588.9 208.9L589.5 209.9L590.1 210.9L590.7 212L590.4 213.3L589.8 214.6L589.6 215.7L590 216.6L590.2 217.4L590.4 218.3L590.5 219.2L590.6 220.1L590.7 221.1L590.7 222L590.7 223.1L590.7 224.3L590.5 225.6L590.3 226.8L589.9 227.9L589.4 228.7L589 229.2L588.4 229.3L587.6 229.3L586.6 229.1L585.6 228.5L584.7 227.9L583.8 227.2L583 226.6L582.2 225.9L581.5 225.3L580.7 224.6L580 223.9L579 223.6L577.6 224L576.4 223.9L575.7 223.1L574.9 222.3L574.2 221.4L573.5 220.6L572.8 219.7L572.1 218.8L571.4 218L570.7 217.1L569.4 217.1L567.8 217.4L567 216.7L566.3 215.8L565.6 215L564.9 214.2L564.1 213.3L563.4 212.5L562.7 211.7L561.9 210.9L561.1 210.3L559.5 210.5L558.3 210.3L557.6 209.3L557 208.3L556.5 207.2L555.9 206.2L555.4 205.1L555 204.1L554.6 203.1L554.2 202.1L552.9 201.8L551.6 201.3L551.4 200.3L551.2 199.4L551 198.4L550.8 197.5L550.7 196.7L550.6 195.9L550.5 195L550.4 194.3L550.4 193.5L550.4 192.7Z"/></clipPath>
<g clip-path="url(#lf8)">
<rect x="546.5" y="181.8" width="48" height="51.4" fill="#a4dc58"/>
<path d="M562 197C563 196 566 191.8 568 191C570 190.2 573 191.8 574 192M571 204C572.2 203.2 576 199.3 578 199C580 198.7 582.2 201.5 583 202M579 213C580.2 212.7 584.8 211.3 586 211M564 198.5C563.7 199.8 561.8 203.8 562 206C562.2 208.2 564.5 211 565 212M573 206C572.8 207.3 571.5 211.7 572 214C572.5 216.3 575.3 219 576 220M581 216C581.2 217.2 581.8 221.8 582 223" fill="none" stroke="#5a9e32" stroke-width="3.3" stroke-linecap="round" opacity=".8"/>
<path d="M562 197C563 196 566 191.8 568 191C570 190.2 573 191.8 574 192M571 204C572.2 203.2 576 199.3 578 199C580 198.7 582.2 201.5 583 202M579 213C580.2 212.7 584.8 211.3 586 211M564 198.5C563.7 199.8 561.8 203.8 562 206C562.2 208.2 564.5 211 565 212M573 206C572.8 207.3 571.5 211.7 572 214C572.5 216.3 575.3 219 576 220M581 216C581.2 217.2 581.8 221.8 582 223" fill="none" stroke="#0a1c0d" stroke-width="1.15" stroke-linecap="round"/>
<path d="M551 192.5C552.8 193.2 558.3 194.8 562 197C565.7 199.2 569.7 202.7 573 206C576.3 209.3 579.4 213.3 582 217C584.6 220.7 587.4 226.2 588.5 228" fill="none" stroke="#5a9e32" stroke-width="5" stroke-linecap="round" opacity=".5"/>
<path d="M551 192.5C552.8 193.2 558.3 194.8 562 197C565.7 199.2 569.7 202.7 573 206C576.3 209.3 579.4 213.3 582 217C584.6 220.7 587.4 226.2 588.5 228" fill="none" stroke="#0a1c0d" stroke-width="1.9" stroke-linecap="round"/>
</g>
<path d="M550.5 192L550.8 191.3L551.2 190.6L551.7 189.9L552.2 189.2L552.7 188.6L553.3 188L554 187.5L554.7 187L555.4 186.6L556.3 186.2L557.1 185.8L558 185.4L559 185.1L559.9 185L560.9 185.6L561.9 186.3L562.9 186.7L563.9 186.6L564.9 186.5L565.9 186.5L567 186.6L568 186.7L569.1 186.9L570.2 187.1L571.3 187.4L572.5 187.7L573.6 188L574.4 188.8L574.9 190.2L575.3 191.5L576.3 192L577.2 192.5L578.2 193.1L579.1 193.8L580 194.5L580.9 195.2L581.8 196L582.6 196.8L583.4 197.6L584.2 198.5L584.5 199.7L584.3 201.1L584.3 202.4L585 203.3L585.7 204.2L586.4 205.1L587 206L587.6 206.9L588.3 207.9L588.9 208.9L589.5 209.9L590.1 210.9L590.7 212L590.4 213.3L589.8 214.6L589.6 215.7L590 216.6L590.2 217.4L590.4 218.3L590.5 219.2L590.6 220.1L590.7 221.1L590.7 222L590.7 223.1L590.7 224.3L590.5 225.6L590.3 226.8L589.9 227.9L589.4 228.7L589 229.2L588.4 229.3L587.6 229.3L586.6 229.1L585.6 228.5L584.7 227.9L583.8 227.2L583 226.6L582.2 225.9L581.5 225.3L580.7 224.6L580 223.9L579 223.6L577.6 224L576.4 223.9L575.7 223.1L574.9 222.3L574.2 221.4L573.5 220.6L572.8 219.7L572.1 218.8L571.4 218L570.7 217.1L569.4 217.1L567.8 217.4L567 216.7L566.3 215.8L565.6 215L564.9 214.2L564.1 213.3L563.4 212.5L562.7 211.7L561.9 210.9L561.1 210.3L559.5 210.5L558.3 210.3L557.6 209.3L557 208.3L556.5 207.2L555.9 206.2L555.4 205.1L555 204.1L554.6 203.1L554.2 202.1L552.9 201.8L551.6 201.3L551.4 200.3L551.2 199.4L551 198.4L550.8 197.5L550.7 196.7L550.6 195.9L550.5 195L550.4 194.3L550.4 193.5L550.4 192.7Z" fill="none" stroke="#0a1c0d" stroke-width="1.9" stroke-linejoin="round"/>
<clipPath id="lf9"><path d="M528 198L528.8 198.2L529.6 198.5L530.5 198.8L531.4 199.2L532.3 199.6L533.2 199.9L534.1 200.3L535 200.7L536 201.2L536.9 201.6L537.8 202.2L538.1 203.5L538.2 204.9L538.9 205.5L539.7 206.1L540.4 206.8L541.1 207.5L541.8 208.3L542.5 209.1L543.1 209.9L543.6 210.8L544.1 211.7L544.6 212.7L544.4 213.8L543.7 214.9L543.1 216L543.4 216.9L543.5 218L543.6 219.1L543.7 220.2L543.6 221.5L543.5 222.7L543.4 224L543.3 225.2L542.9 226.3L541.5 227L540.4 227.7L540.2 228.8L539.9 229.8L539.7 230.9L539.4 232L539.2 233.1L538.9 234.2L538.7 235.4L538.4 236.7L538.1 237.9L536.6 238.6L535.3 239.1L534.9 240.1L534.5 241L534 241.8L533.5 242.6L532.9 243.3L532.4 244L531.8 244.6L531.2 245.2L530.7 245.9L530.2 246.5L529.7 247.2L529 247.8L528.5 248.2L528 248.5L527.5 248.5L527 248.2L526.5 247.6L525.7 246.9L525.2 246L524.7 245L524.2 244L523.8 243.1L523.4 242.2L523.1 241.3L522.8 240.4L522.4 239.4L522.1 238.4L521.8 237.5L520.6 237L519.2 236.5L518.6 235.5L518.3 234.4L518 233.3L517.7 232.2L517.4 231L517.1 229.9L516.9 228.8L516.6 227.7L516.4 226.7L515.6 225.8L514.2 225.2L513.4 224.4L513.2 223.3L513 222.2L512.9 221.2L512.8 220.1L512.7 219L512.7 218L512.7 217L512.8 216L513 215L512.7 213.9L511.8 212.7L511.5 211.5L512 210.4L512.5 209.3L513.1 208.4L513.8 207.4L514.6 206.5L515.4 205.7L516.3 204.9L517.2 204.1L517.8 203.2L517.8 201.8L518.1 200.6L518.9 200.2L519.8 199.7L520.6 199.3L521.4 199L522.2 198.7L523 198.5L523.7 198.3L524.4 198.1L525.1 198L525.8 197.9L526.5 197.9L527.2 197.9Z"/></clipPath>
<g clip-path="url(#lf9)">
<rect x="508.2" y="194" width="39.8" height="58.5" fill="#46a565"/>
<path d="M527 210C525.8 209.3 521.2 206.7 520 206M527 219C525.5 218.7 519.5 217.3 518 217M527 229C525.8 229.2 521.2 229.8 520 230M527.3 213C528.6 212.2 533.7 208.8 535 208M527.3 222C529.1 221.5 536.2 219.5 538 219M527.3 232C528.8 232 534.5 232 536 232" fill="none" stroke="#1f6b3e" stroke-width="3.3" stroke-linecap="round" opacity=".8"/>
<path d="M527 210C525.8 209.3 521.2 206.7 520 206M527 219C525.5 218.7 519.5 217.3 518 217M527 229C525.8 229.2 521.2 229.8 520 230M527.3 213C528.6 212.2 533.7 208.8 535 208M527.3 222C529.1 221.5 536.2 219.5 538 219M527.3 232C528.8 232 534.5 232 536 232" fill="none" stroke="#0a1c0d" stroke-width="1.15" stroke-linecap="round"/>
<path d="M528 199C527.8 201.2 527.2 207.2 527 212C526.8 216.8 526.9 222.3 527 228C527.1 233.7 527.4 243 527.5 246" fill="none" stroke="#1f6b3e" stroke-width="5" stroke-linecap="round" opacity=".5"/>
<path d="M528 199C527.8 201.2 527.2 207.2 527 212C526.8 216.8 526.9 222.3 527 228C527.1 233.7 527.4 243 527.5 246" fill="none" stroke="#0a1c0d" stroke-width="1.9" stroke-linecap="round"/>
</g>
<path d="M528 198L528.8 198.2L529.6 198.5L530.5 198.8L531.4 199.2L532.3 199.6L533.2 199.9L534.1 200.3L535 200.7L536 201.2L536.9 201.6L537.8 202.2L538.1 203.5L538.2 204.9L538.9 205.5L539.7 206.1L540.4 206.8L541.1 207.5L541.8 208.3L542.5 209.1L543.1 209.9L543.6 210.8L544.1 211.7L544.6 212.7L544.4 213.8L543.7 214.9L543.1 216L543.4 216.9L543.5 218L543.6 219.1L543.7 220.2L543.6 221.5L543.5 222.7L543.4 224L543.3 225.2L542.9 226.3L541.5 227L540.4 227.7L540.2 228.8L539.9 229.8L539.7 230.9L539.4 232L539.2 233.1L538.9 234.2L538.7 235.4L538.4 236.7L538.1 237.9L536.6 238.6L535.3 239.1L534.9 240.1L534.5 241L534 241.8L533.5 242.6L532.9 243.3L532.4 244L531.8 244.6L531.2 245.2L530.7 245.9L530.2 246.5L529.7 247.2L529 247.8L528.5 248.2L528 248.5L527.5 248.5L527 248.2L526.5 247.6L525.7 246.9L525.2 246L524.7 245L524.2 244L523.8 243.1L523.4 242.2L523.1 241.3L522.8 240.4L522.4 239.4L522.1 238.4L521.8 237.5L520.6 237L519.2 236.5L518.6 235.5L518.3 234.4L518 233.3L517.7 232.2L517.4 231L517.1 229.9L516.9 228.8L516.6 227.7L516.4 226.7L515.6 225.8L514.2 225.2L513.4 224.4L513.2 223.3L513 222.2L512.9 221.2L512.8 220.1L512.7 219L512.7 218L512.7 217L512.8 216L513 215L512.7 213.9L511.8 212.7L511.5 211.5L512 210.4L512.5 209.3L513.1 208.4L513.8 207.4L514.6 206.5L515.4 205.7L516.3 204.9L517.2 204.1L517.8 203.2L517.8 201.8L518.1 200.6L518.9 200.2L519.8 199.7L520.6 199.3L521.4 199L522.2 198.7L523 198.5L523.7 198.3L524.4 198.1L525.1 198L525.8 197.9L526.5 197.9L527.2 197.9Z" fill="none" stroke="#0a1c0d" stroke-width="1.9" stroke-linejoin="round"/>
<clipPath id="lf10"><path d="M407 274.5L406.9 273.7L406.8 272.9L406.7 271.9L406.5 270.8L406.2 269.8L406 268.8L405.7 267.9L405.4 267L404.9 266.1L404.5 265.2L403.9 264.3L402.9 264L401.6 264.1L400.5 264.3L399.9 263.8L399.2 263.3L398.5 262.9L397.7 262.5L396.8 262.2L395.9 261.9L395 261.7L394 261.6L393 261.5L391.9 261.5L390.8 261.5L389.8 262.2L389.1 263.4L388.3 264.3L387.3 264.5L386.3 264.8L385.3 265L384.2 265.4L383.2 265.7L382.2 266.1L381.2 266.5L380.2 267L379.2 267.4L378.3 268L378.1 269.3L377.9 270.7L377.3 271.4L376.4 271.9L375.6 272.5L374.9 273.1L374.1 273.7L373.4 274.3L372.7 274.9L372.1 275.6L371.6 276.3L371.2 276.9L370.7 277.6L370.3 278.3L370.1 279.1L370 279.8L370 280.4L370 281L370.3 281.5L370.7 282.1L371.2 282.8L371.9 283.3L372.7 283.7L373.5 284L374.4 284.2L375.3 284.4L376.2 284.4L377.2 284.4L378.2 284.4L379.2 284.4L380 285.4L380.9 286.6L382 286.5L383 286.2L384 286L385 285.6L386 285.3L386.9 284.9L387.9 284.5L388.8 284L389.9 284.2L391.3 285L392.4 284.9L393.3 284.4L394.2 283.8L395.1 283.2L395.9 282.6L396.7 282L397.5 281.3L398.3 280.6L399.1 280.2L400.4 280.7L401.5 281L402.1 280.4L402.7 279.8L403.2 279.3L403.7 278.8L404.2 278.4L404.6 277.9L405 277.5L405.4 277.1L405.8 276.7L406.1 276.4L406.4 276L406.7 275.6L406.9 275.1Z"/></clipPath>
<g clip-path="url(#lf10)">
<rect x="366" y="258" width="45" height="31.5" fill="#a4dc58"/>
<path d="M396 273.5C395.3 272.4 393.5 268.2 392 267C390.5 265.8 387.8 266.2 387 266M386 276.5C385.2 275.6 381.8 271.9 381 271M393 275C392.5 276 390.5 280 390 281M382 278C381.5 278.8 379.5 282.2 379 283" fill="none" stroke="#5a9e32" stroke-width="3.3" stroke-linecap="round" opacity=".8"/>
<path d="M396 273.5C395.3 272.4 393.5 268.2 392 267C390.5 265.8 387.8 266.2 387 266M386 276.5C385.2 275.6 381.8 271.9 381 271M393 275C392.5 276 390.5 280 390 281M382 278C381.5 278.8 379.5 282.2 379 283" fill="none" stroke="#0a1c0d" stroke-width="1.15" stroke-linecap="round"/>
<path d="M407 274.5C405.2 274.3 399.8 273.1 396 273.5C392.2 273.9 388.2 275.8 384 277C379.8 278.2 373.2 280.3 371 281" fill="none" stroke="#5a9e32" stroke-width="5" stroke-linecap="round" opacity=".5"/>
<path d="M407 274.5C405.2 274.3 399.8 273.1 396 273.5C392.2 273.9 388.2 275.8 384 277C379.8 278.2 373.2 280.3 371 281" fill="none" stroke="#0a1c0d" stroke-width="1.9" stroke-linecap="round"/>
</g>
<path d="M407 274.5L406.9 273.7L406.8 272.9L406.7 271.9L406.5 270.8L406.2 269.8L406 268.8L405.7 267.9L405.4 267L404.9 266.1L404.5 265.2L403.9 264.3L402.9 264L401.6 264.1L400.5 264.3L399.9 263.8L399.2 263.3L398.5 262.9L397.7 262.5L396.8 262.2L395.9 261.9L395 261.7L394 261.6L393 261.5L391.9 261.5L390.8 261.5L389.8 262.2L389.1 263.4L388.3 264.3L387.3 264.5L386.3 264.8L385.3 265L384.2 265.4L383.2 265.7L382.2 266.1L381.2 266.5L380.2 267L379.2 267.4L378.3 268L378.1 269.3L377.9 270.7L377.3 271.4L376.4 271.9L375.6 272.5L374.9 273.1L374.1 273.7L373.4 274.3L372.7 274.9L372.1 275.6L371.6 276.3L371.2 276.9L370.7 277.6L370.3 278.3L370.1 279.1L370 279.8L370 280.4L370 281L370.3 281.5L370.7 282.1L371.2 282.8L371.9 283.3L372.7 283.7L373.5 284L374.4 284.2L375.3 284.4L376.2 284.4L377.2 284.4L378.2 284.4L379.2 284.4L380 285.4L380.9 286.6L382 286.5L383 286.2L384 286L385 285.6L386 285.3L386.9 284.9L387.9 284.5L388.8 284L389.9 284.2L391.3 285L392.4 284.9L393.3 284.4L394.2 283.8L395.1 283.2L395.9 282.6L396.7 282L397.5 281.3L398.3 280.6L399.1 280.2L400.4 280.7L401.5 281L402.1 280.4L402.7 279.8L403.2 279.3L403.7 278.8L404.2 278.4L404.6 277.9L405 277.5L405.4 277.1L405.8 276.7L406.1 276.4L406.4 276L406.7 275.6L406.9 275.1Z" fill="none" stroke="#0a1c0d" stroke-width="1.9" stroke-linejoin="round"/>
<clipPath id="lf11"><path d="M369.5 297L369.2 296L368.8 295L368.3 294L367.8 293L367.3 292.1L366.7 291.2L366.2 290.3L365.5 289.5L364.8 288.8L364 288L363.2 287.3L362.2 287L360.9 287.4L359.8 287.9L358.9 287.8L358 287.5L357 287.2L356 287.1L355 286.9L354 286.9L352.9 287L351.9 287.1L350.8 287.4L349.7 287.7L348.6 288.2L347.6 288.7L347.2 290.1L347 291.5L346.3 292.3L345.4 293L344.5 293.8L343.7 294.6L342.8 295.5L342 296.4L341.1 297.3L340.3 298.2L339.5 299.2L338.7 300.2L338.7 301.6L339 303.2L338.8 304.4L338.1 305.3L337.4 306.2L336.7 307L336 307.8L335.3 308.5L334.7 309.3L334.1 310L333.6 310.8L333.2 311.7L332.7 312.6L332.3 313.5L332.1 314.5L331.9 315.3L331.9 316L332 316.5L332.4 316.8L333.1 317L334 317.2L335 317.3L336 317.2L337.1 317L338 316.8L339 316.5L339.9 316.2L340.9 315.8L341.9 315.5L342.9 315.1L343.9 314.8L345 315.6L346.1 316.5L347.1 316.2L348.1 315.9L349.1 315.5L350 315.2L351 314.8L352 314.4L352.9 313.9L353.9 313.5L354.8 313L355.9 312.8L357.2 313.5L358.4 313.9L359.3 313.3L360.2 312.8L361 312.2L361.9 311.6L362.7 311L363.4 310.4L364.1 309.8L364.7 309.1L365.2 308.4L365.8 307.6L366.9 307.5L368.2 307.4L369 306.7L369.3 305.7L369.5 304.7L369.6 303.6L369.6 302.5L369.7 301.4L369.7 300.3L369.6 299.1L369.6 298Z"/></clipPath>
<g clip-path="url(#lf11)">
<rect x="328" y="283.2" width="45.5" height="37.3" fill="#a4dc58"/>
<path d="M358 300C357.3 298.8 355.3 294.3 354 293C352.7 291.7 350.7 292.2 350 292M349 305C348.3 304 345.7 300 345 299M356 302C356 303.2 356 307.8 356 309M347 307.5C347 308.4 347 312.1 347 313" fill="none" stroke="#5a9e32" stroke-width="3.3" stroke-linecap="round" opacity=".8"/>
<path d="M358 300C357.3 298.8 355.3 294.3 354 293C352.7 291.7 350.7 292.2 350 292M349 305C348.3 304 345.7 300 345 299M356 302C356 303.2 356 307.8 356 309M347 307.5C347 308.4 347 312.1 347 313" fill="none" stroke="#0a1c0d" stroke-width="1.15" stroke-linecap="round"/>
<path d="M369.5 297.5C367.6 297.9 361.9 298.4 358 300C354.1 301.6 350.2 304.3 346 307C341.8 309.7 335.2 314.5 333 316" fill="none" stroke="#5a9e32" stroke-width="5" stroke-linecap="round" opacity=".5"/>
<path d="M369.5 297.5C367.6 297.9 361.9 298.4 358 300C354.1 301.6 350.2 304.3 346 307C341.8 309.7 335.2 314.5 333 316" fill="none" stroke="#0a1c0d" stroke-width="1.9" stroke-linecap="round"/>
</g>
<path d="M369.5 297L369.2 296L368.8 295L368.3 294L367.8 293L367.3 292.1L366.7 291.2L366.2 290.3L365.5 289.5L364.8 288.8L364 288L363.2 287.3L362.2 287L360.9 287.4L359.8 287.9L358.9 287.8L358 287.5L357 287.2L356 287.1L355 286.9L354 286.9L352.9 287L351.9 287.1L350.8 287.4L349.7 287.7L348.6 288.2L347.6 288.7L347.2 290.1L347 291.5L346.3 292.3L345.4 293L344.5 293.8L343.7 294.6L342.8 295.5L342 296.4L341.1 297.3L340.3 298.2L339.5 299.2L338.7 300.2L338.7 301.6L339 303.2L338.8 304.4L338.1 305.3L337.4 306.2L336.7 307L336 307.8L335.3 308.5L334.7 309.3L334.1 310L333.6 310.8L333.2 311.7L332.7 312.6L332.3 313.5L332.1 314.5L331.9 315.3L331.9 316L332 316.5L332.4 316.8L333.1 317L334 317.2L335 317.3L336 317.2L337.1 317L338 316.8L339 316.5L339.9 316.2L340.9 315.8L341.9 315.5L342.9 315.1L343.9 314.8L345 315.6L346.1 316.5L347.1 316.2L348.1 315.9L349.1 315.5L350 315.2L351 314.8L352 314.4L352.9 313.9L353.9 313.5L354.8 313L355.9 312.8L357.2 313.5L358.4 313.9L359.3 313.3L360.2 312.8L361 312.2L361.9 311.6L362.7 311L363.4 310.4L364.1 309.8L364.7 309.1L365.2 308.4L365.8 307.6L366.9 307.5L368.2 307.4L369 306.7L369.3 305.7L369.5 304.7L369.6 303.6L369.6 302.5L369.7 301.4L369.7 300.3L369.6 299.1L369.6 298Z" fill="none" stroke="#0a1c0d" stroke-width="1.9" stroke-linejoin="round"/>
<clipPath id="lf12"><path d="M361.5 313.5L361.7 314.3L361.6 315.3L361.3 316.5L360.9 317.9L360.6 319.4L360.3 320.8L360.3 322.2L359 323.2L358.2 324.4L358 325.7L358 327.1L357.9 328.5L357.8 329.8L357.8 331.2L357.7 332.6L356.2 333.5L355 334.5L354.9 335.9L354.8 337.3L354.6 338.7L354.4 340.2L354.3 341.7L353.9 343.2L351.8 344L351.2 345.5L351 347.1L350.7 348.7L350.4 350.2L350.1 351.7L349.8 353.2L347.7 353.8L346.8 355L346.5 356.4L346.1 357.8L345.7 359.1L345.4 360.4L345 361.6L344.5 362.8L342.9 363.1L341.6 363.6L341.2 364.7L340.8 365.8L340.3 367.1L339.7 368.4L339.1 369.7L338.4 370.9L337.5 371.7L336.8 372.3L336.2 372.5L335.7 372.2L335.2 371.4L334.6 370.4L334.1 369.1L333.8 367.7L333.6 366.3L333.5 365L333.5 363.8L333.5 362.5L333.6 361.2L333.2 359.9L331.9 358.7L331.6 357.3L331.8 356L332 354.7L332.3 353.4L332.6 352.1L332.9 350.9L333.3 349.6L333.7 348.4L333.3 347L332.3 345.6L332.4 344.3L332.8 343L333.3 341.8L333.8 340.5L334.3 339.3L334.8 338.1L335.4 336.8L336 335.6L335.4 334.1L334.7 332.4L335.4 331.2L336 330L336.7 328.9L337.3 327.8L338 326.7L338.7 325.7L339.4 324.7L340.1 323.8L340.1 322.6L339.9 321.1L340.4 320L341.3 319.3L342.2 318.6L343.1 318.1L344.1 317.5L345.1 317.1L346.1 316.7L347.2 316.4L348.4 316.1L349.5 315.7L350.4 314.4L351.5 313.6L352.8 313.6L353.9 313.5L355.1 313.4L356.4 313.2L357.8 313.1L359 313L360.1 312.9L360.9 313.1Z"/></clipPath>
<g clip-path="url(#lf12)">
<rect x="328.5" y="309.5" width="37" height="67" fill="#a4dc58"/>
<path d="M354 326C352.8 325.7 349 324 347 324C345 324 342.8 325.7 342 326M350 336C348.8 335.8 345 334.7 343 335C341 335.3 338.8 337.5 338 338M346 346C345 346 341.8 345.5 340 346C338.2 346.5 335.8 348.5 335 349M342 356C341 356.2 337 356.8 336 357M355 325C355.3 326.2 356.7 330.8 357 332M350 337C350.5 338.2 352.5 342.8 353 344M345 349C345.5 350 347.5 354 348 355" fill="none" stroke="#5a9e32" stroke-width="3.3" stroke-linecap="round" opacity=".8"/>
<path d="M354 326C352.8 325.7 349 324 347 324C345 324 342.8 325.7 342 326M350 336C348.8 335.8 345 334.7 343 335C341 335.3 338.8 337.5 338 338M346 346C345 346 341.8 345.5 340 346C338.2 346.5 335.8 348.5 335 349M342 356C341 356.2 337 356.8 336 357M355 325C355.3 326.2 356.7 330.8 357 332M350 337C350.5 338.2 352.5 342.8 353 344M345 349C345.5 350 347.5 354 348 355" fill="none" stroke="#0a1c0d" stroke-width="1.15" stroke-linecap="round"/>
<path d="M359 315C357.8 317.5 354.5 324.2 352 330C349.5 335.8 346.6 343.2 344 350C341.4 356.8 337.8 367.5 336.5 371" fill="none" stroke="#5a9e32" stroke-width="5" stroke-linecap="round" opacity=".5"/>
<path d="M359 315C357.8 317.5 354.5 324.2 352 330C349.5 335.8 346.6 343.2 344 350C341.4 356.8 337.8 367.5 336.5 371" fill="none" stroke="#0a1c0d" stroke-width="1.9" stroke-linecap="round"/>
</g>
<path d="M361.5 313.5L361.7 314.3L361.6 315.3L361.3 316.5L360.9 317.9L360.6 319.4L360.3 320.8L360.3 322.2L359 323.2L358.2 324.4L358 325.7L358 327.1L357.9 328.5L357.8 329.8L357.8 331.2L357.7 332.6L356.2 333.5L355 334.5L354.9 335.9L354.8 337.3L354.6 338.7L354.4 340.2L354.3 341.7L353.9 343.2L351.8 344L351.2 345.5L351 347.1L350.7 348.7L350.4 350.2L350.1 351.7L349.8 353.2L347.7 353.8L346.8 355L346.5 356.4L346.1 357.8L345.7 359.1L345.4 360.4L345 361.6L344.5 362.8L342.9 363.1L341.6 363.6L341.2 364.7L340.8 365.8L340.3 367.1L339.7 368.4L339.1 369.7L338.4 370.9L337.5 371.7L336.8 372.3L336.2 372.5L335.7 372.2L335.2 371.4L334.6 370.4L334.1 369.1L333.8 367.7L333.6 366.3L333.5 365L333.5 363.8L333.5 362.5L333.6 361.2L333.2 359.9L331.9 358.7L331.6 357.3L331.8 356L332 354.7L332.3 353.4L332.6 352.1L332.9 350.9L333.3 349.6L333.7 348.4L333.3 347L332.3 345.6L332.4 344.3L332.8 343L333.3 341.8L333.8 340.5L334.3 339.3L334.8 338.1L335.4 336.8L336 335.6L335.4 334.1L334.7 332.4L335.4 331.2L336 330L336.7 328.9L337.3 327.8L338 326.7L338.7 325.7L339.4 324.7L340.1 323.8L340.1 322.6L339.9 321.1L340.4 320L341.3 319.3L342.2 318.6L343.1 318.1L344.1 317.5L345.1 317.1L346.1 316.7L347.2 316.4L348.4 316.1L349.5 315.7L350.4 314.4L351.5 313.6L352.8 313.6L353.9 313.5L355.1 313.4L356.4 313.2L357.8 313.1L359 313L360.1 312.9L360.9 313.1Z" fill="none" stroke="#0a1c0d" stroke-width="1.9" stroke-linejoin="round"/>
<clipPath id="lf13"><path d="M525 309L525.1 308.2L525.3 307.4L525.5 306.5L525.6 305.7L525.9 304.9L526.2 304.2L526.5 303.5L526.9 302.9L527.4 302.3L528 301.7L528.6 301.2L529.3 300.7L530 300.2L530.7 299.7L531.5 299.2L532.4 299.1L533.4 299.5L534.4 300.1L535.3 300.5L536.1 300.3L537 300.1L537.8 300L538.7 300L539.6 300L540.5 300.1L541.4 300.2L542.3 300.4L543.2 300.6L544.1 300.9L545 301.2L545.9 301.5L546.8 301.9L547.6 302.5L548 303.7L548.2 304.8L548.5 305.8L549.2 306.4L549.9 307L550.6 307.7L551.3 308.4L551.9 309.2L552.6 310L553.2 310.8L553.7 311.7L554.3 312.6L554.8 313.6L555.3 314.6L555.8 315.6L555.4 316.9L554.9 318.2L554.8 319.4L555.2 320.5L555.7 321.6L556.1 322.7L556.6 323.8L557.1 325L557.7 326.2L558.3 327.6L558.9 329.1L559.4 330.5L559.5 331.9L559.6 332.9L559.5 333.5L559 333.6L558.3 333.5L557.2 333.3L556 332.7L554.9 332L553.9 331.2L553 330.5L552.2 329.9L551.3 329.3L550.5 328.7L549.6 328.1L548.4 328.6L547.1 329.2L546.2 328.9L545.3 328.4L544.5 327.9L543.6 327.4L542.7 327L541.9 326.5L541 326L540.2 325.5L539.4 325L538.5 324.6L537.3 325.2L536.1 325.7L535.2 325.2L534.5 324.6L533.7 324L533 323.3L532.4 322.6L531.7 321.9L531.2 321.2L530.6 320.4L530.1 319.6L529.6 318.9L528.6 318.6L527.3 318.5L526.4 318.1L526.1 317.2L525.8 316.3L525.5 315.4L525.3 314.6L525.2 313.8L525.1 313L525.1 312.2L525 311.4L525 310.6L525 309.8Z"/></clipPath>
<g clip-path="url(#lf13)">
<rect x="521" y="295.5" width="42.5" height="42" fill="#a4dc58"/>
<path d="M536 312.5C536.7 311.3 538.5 306.8 540 305.5C541.5 304.2 544.2 305.1 545 305M545 318C545.8 317.2 549.2 313.8 550 313M538 314C538 315.2 538 319.8 538 321M547 320C547.3 321.2 548.7 325.8 549 327" fill="none" stroke="#5a9e32" stroke-width="3.3" stroke-linecap="round" opacity=".8"/>
<path d="M536 312.5C536.7 311.3 538.5 306.8 540 305.5C541.5 304.2 544.2 305.1 545 305M545 318C545.8 317.2 549.2 313.8 550 313M538 314C538 315.2 538 319.8 538 321M547 320C547.3 321.2 548.7 325.8 549 327" fill="none" stroke="#0a1c0d" stroke-width="1.15" stroke-linecap="round"/>
<path d="M525.5 311C527.2 311.2 532.4 311.1 536 312.5C539.6 313.9 543.2 316.2 547 319.5C550.8 322.8 556.6 330.3 558.5 332.5" fill="none" stroke="#5a9e32" stroke-width="5" stroke-linecap="round" opacity=".5"/>
<path d="M525.5 311C527.2 311.2 532.4 311.1 536 312.5C539.6 313.9 543.2 316.2 547 319.5C550.8 322.8 556.6 330.3 558.5 332.5" fill="none" stroke="#0a1c0d" stroke-width="1.9" stroke-linecap="round"/>
</g>
<path d="M525 309L525.1 308.2L525.3 307.4L525.5 306.5L525.6 305.7L525.9 304.9L526.2 304.2L526.5 303.5L526.9 302.9L527.4 302.3L528 301.7L528.6 301.2L529.3 300.7L530 300.2L530.7 299.7L531.5 299.2L532.4 299.1L533.4 299.5L534.4 300.1L535.3 300.5L536.1 300.3L537 300.1L537.8 300L538.7 300L539.6 300L540.5 300.1L541.4 300.2L542.3 300.4L543.2 300.6L544.1 300.9L545 301.2L545.9 301.5L546.8 301.9L547.6 302.5L548 303.7L548.2 304.8L548.5 305.8L549.2 306.4L549.9 307L550.6 307.7L551.3 308.4L551.9 309.2L552.6 310L553.2 310.8L553.7 311.7L554.3 312.6L554.8 313.6L555.3 314.6L555.8 315.6L555.4 316.9L554.9 318.2L554.8 319.4L555.2 320.5L555.7 321.6L556.1 322.7L556.6 323.8L557.1 325L557.7 326.2L558.3 327.6L558.9 329.1L559.4 330.5L559.5 331.9L559.6 332.9L559.5 333.5L559 333.6L558.3 333.5L557.2 333.3L556 332.7L554.9 332L553.9 331.2L553 330.5L552.2 329.9L551.3 329.3L550.5 328.7L549.6 328.1L548.4 328.6L547.1 329.2L546.2 328.9L545.3 328.4L544.5 327.9L543.6 327.4L542.7 327L541.9 326.5L541 326L540.2 325.5L539.4 325L538.5 324.6L537.3 325.2L536.1 325.7L535.2 325.2L534.5 324.6L533.7 324L533 323.3L532.4 322.6L531.7 321.9L531.2 321.2L530.6 320.4L530.1 319.6L529.6 318.9L528.6 318.6L527.3 318.5L526.4 318.1L526.1 317.2L525.8 316.3L525.5 315.4L525.3 314.6L525.2 313.8L525.1 313L525.1 312.2L525 311.4L525 310.6L525 309.8Z" fill="none" stroke="#0a1c0d" stroke-width="1.9" stroke-linejoin="round"/>
<clipPath id="lf14"><path d="M516 322.5L516.6 322.3L517.2 322.3L517.9 322.5L518.6 322.8L519.4 323.2L520.2 323.6L521 324L521.8 324.4L522.7 324.8L523.7 325.2L524.6 325.6L525.6 326.1L526.7 326.6L527.3 327.6L527.7 328.9L528.1 330.2L529.1 330.9L530.1 331.6L531.1 332.3L532.2 333.1L533.1 333.9L534.1 334.7L535.2 335.5L536.2 336.4L537.2 337.2L537.4 338.7L537.4 340.3L537.8 341.4L538.6 342.3L539.4 343.3L540.1 344.3L540.8 345.2L541.5 346.3L542.1 347.3L542.6 348.3L543.1 349.4L543.5 350.5L543.6 351.6L542.8 352.8L542 353.9L542.1 354.9L542.2 356L542.3 357L542.3 358.1L542.3 359.3L542.2 360.4L542 361.5L541.9 362.7L541.7 363.7L541.5 364.8L541.3 365.9L540.3 366.6L539.1 367.2L538.2 367.9L537.9 368.8L537.5 369.7L537.2 370.6L536.8 371.4L536.4 372.3L535.9 373L535.4 373.8L534.8 374.5L534.2 375.2L533.6 376L532.9 376.8L532.1 377.6L531.2 378.2L530.4 378.7L529.7 379.1L529 379.2L528.3 379L527.6 378.5L526.9 377.7L526.4 376.7L525.8 375.6L525.4 374.5L525 373.5L524.6 372.5L524.2 371.5L523.8 370.5L523.4 369.4L522.3 368.8L520.9 368.3L520.1 367.5L519.8 366.4L519.5 365.3L519.1 364.2L518.8 363.1L518.6 362L518.3 360.9L518 359.8L517.8 358.6L517 357.7L515.5 357.1L514.7 356.1L514.5 354.9L514.4 353.8L514.2 352.6L514.1 351.5L514 350.3L513.9 349.2L513.8 348.1L513.7 347L513.1 346L511.9 345.1L511.3 344L511.4 342.8L511.5 341.6L511.7 340.4L511.9 339.3L512.1 338.1L512.4 337L512.6 335.9L512.9 334.9L512.7 333.8L511.9 332.6L511.7 331.4L512.2 330.4L512.6 329.4L513.1 328.3L513.6 327.2L514.1 326L514.5 324.9L515 323.9L515.5 323.1Z"/></clipPath>
<g clip-path="url(#lf14)">
<rect x="508" y="318.5" width="38.8" height="64.7" fill="#a4dc58"/>
</g>
<path d="M516 322.5L516.6 322.3L517.2 322.3L517.9 322.5L518.6 322.8L519.4 323.2L520.2 323.6L521 324L521.8 324.4L522.7 324.8L523.7 325.2L524.6 325.6L525.6 326.1L526.7 326.6L527.3 327.6L527.7 328.9L528.1 330.2L529.1 330.9L530.1 331.6L531.1 332.3L532.2 333.1L533.1 333.9L534.1 334.7L535.2 335.5L536.2 336.4L537.2 337.2L537.4 338.7L537.4 340.3L537.8 341.4L538.6 342.3L539.4 343.3L540.1 344.3L540.8 345.2L541.5 346.3L542.1 347.3L542.6 348.3L543.1 349.4L543.5 350.5L543.6 351.6L542.8 352.8L542 353.9L542.1 354.9L542.2 356L542.3 357L542.3 358.1L542.3 359.3L542.2 360.4L542 361.5L541.9 362.7L541.7 363.7L541.5 364.8L541.3 365.9L540.3 366.6L539.1 367.2L538.2 367.9L537.9 368.8L537.5 369.7L537.2 370.6L536.8 371.4L536.4 372.3L535.9 373L535.4 373.8L534.8 374.5L534.2 375.2L533.6 376L532.9 376.8L532.1 377.6L531.2 378.2L530.4 378.7L529.7 379.1L529 379.2L528.3 379L527.6 378.5L526.9 377.7L526.4 376.7L525.8 375.6L525.4 374.5L525 373.5L524.6 372.5L524.2 371.5L523.8 370.5L523.4 369.4L522.3 368.8L520.9 368.3L520.1 367.5L519.8 366.4L519.5 365.3L519.1 364.2L518.8 363.1L518.6 362L518.3 360.9L518 359.8L517.8 358.6L517 357.7L515.5 357.1L514.7 356.1L514.5 354.9L514.4 353.8L514.2 352.6L514.1 351.5L514 350.3L513.9 349.2L513.8 348.1L513.7 347L513.1 346L511.9 345.1L511.3 344L511.4 342.8L511.5 341.6L511.7 340.4L511.9 339.3L512.1 338.1L512.4 337L512.6 335.9L512.9 334.9L512.7 333.8L511.9 332.6L511.7 331.4L512.2 330.4L512.6 329.4L513.1 328.3L513.6 327.2L514.1 326L514.5 324.9L515 323.9L515.5 323.1Z" fill="none" stroke="#0a1c0d" stroke-width="1.9" stroke-linejoin="round"/>
<path d="M516 322.5C517 322.4 517.8 326.1 519 329C520.2 331.9 521.8 336.2 523 340C524.2 343.8 525.2 347.8 526 352C526.8 356.2 527.5 360.5 528 365C528.5 369.5 529.5 377.8 529 379.2C528.5 380.6 526.3 375.5 525 373.5C523.7 371.5 522.2 369.2 521 367C519.8 364.8 518.6 362.4 517.5 360C516.4 357.6 515.3 355 514.5 352.5C513.7 350 512.9 347.6 512.5 345C512.1 342.4 511.9 339.6 512 337C512.1 334.4 512.3 331.9 513 329.5C513.7 327.1 515 322.6 516 322.5Z" fill="#46a565" stroke="#0a1c0d" stroke-width="1.4" stroke-linejoin="round"/>
<path d="M531 340C531.8 340.7 534.7 342.3 536 344C537.3 345.7 538.5 349 539 350" fill="none" stroke="#5a9e32" stroke-width="1.6" stroke-linecap="round"/>
<path d="M533 350C533.7 351 536 354 537 356C538 358 538.7 361 539 362" fill="none" stroke="#5a9e32" stroke-width="1.6" stroke-linecap="round"/>
<path d="M534 360C534.2 361.2 535 364.8 535 367C535 369.2 534.2 372 534 373" fill="none" stroke="#5a9e32" stroke-width="1.6" stroke-linecap="round"/>
<path d="M529 338C529.8 337.8 533.2 337.2 534 337" fill="none" stroke="#5a9e32" stroke-width="1.6" stroke-linecap="round"/>
<path d="M520 332C519.2 332.3 515.8 333.7 515 334" fill="none" stroke="#1f6b3e" stroke-width="1.3" stroke-linecap="round"/>
<path d="M523 343C521.8 343.5 517.2 345.5 516 346" fill="none" stroke="#1f6b3e" stroke-width="1.3" stroke-linecap="round"/>
<path d="M525 354C523.8 354.5 519.2 356.5 518 357" fill="none" stroke="#1f6b3e" stroke-width="1.3" stroke-linecap="round"/>
<ellipse cx="388" cy="217.2" rx="10.6" ry="9.4" fill="#ea4a30" stroke="#2a0a06" stroke-width="1.5"/>
<path d="M395.4 218.6A8.5 7.5 0 0 1 384.8 224" fill="none" stroke="#b82a1a" stroke-width="1.8" stroke-linecap="round" opacity=".55"/>
<ellipse cx="384.8" cy="216.7" rx="3.4" ry="3.9" fill="#f26a4c" opacity=".7"/>
<path d="M383.6 207L387 209.4L390.4 206L392.6 209.2L396.4 207.4L393.4 211.6L387.4 212Z" fill="#3d9a3a" stroke="#0a1c0d" stroke-width=".9" stroke-linejoin="round"/>
<ellipse cx="424" cy="230.4" rx="12.2" ry="9.8" fill="#ea4a30" stroke="#2a0a06" stroke-width="1.5"/>
<path d="M432.5 231.9A9.8 7.8 0 0 1 420.3 237.5" fill="none" stroke="#b82a1a" stroke-width="1.8" stroke-linecap="round" opacity=".55"/>
<ellipse cx="420.3" cy="229.9" rx="3.9" ry="4.1" fill="#f26a4c" opacity=".7"/>
<path d="M417.6 220.6L421.6 223.4L423.4 218.6L426.2 222.6L431.4 219.6L429.6 224.6L432.6 227.6L427 227.2L424.6 230.6L422.4 227L417.8 227.8L420.4 224.4Z" fill="#4fa63c" stroke="#0a1c0d" stroke-width="1.1" stroke-linejoin="round"/>
<ellipse cx="496.8" cy="208.6" rx="11.6" ry="10" fill="#ea4a30" stroke="#2a0a06" stroke-width="1.5"/>
<path d="M504.9 210.1A9.3 8 0 0 1 493.3 215.8" fill="none" stroke="#b82a1a" stroke-width="1.8" stroke-linecap="round" opacity=".55"/>
<ellipse cx="493.3" cy="208.1" rx="3.7" ry="4.2" fill="#f26a4c" opacity=".7"/>
<path d="M487.5 197L491 200L493.6 196.2L496.8 200.2L500.3 196.2L502.6 200L506.3 197L502.6 201.8L496.8 202.6L491 201.8Z" fill="#2f7d33" stroke="#0a1c0d" stroke-width="1.1" stroke-linejoin="round"/>
<ellipse cx="545.2" cy="222.6" rx="9.8" ry="9.6" fill="#ea4a30" stroke="#2a0a06" stroke-width="1.5"/>
<path d="M552.1 224A7.8 7.7 0 0 1 542.3 229.5" fill="none" stroke="#b82a1a" stroke-width="1.8" stroke-linecap="round" opacity=".55"/>
<ellipse cx="542.3" cy="222.1" rx="3.1" ry="4" fill="#f26a4c" opacity=".7"/>
<path d="M537.4 211.4L540.3 214.4L542.5 210.6L545.2 214.6L548.1 210.6L550.1 214.4L553.2 211.4L550.1 216.2L545.2 217L540.3 216.2Z" fill="#2f7d33" stroke="#0a1c0d" stroke-width="1.1" stroke-linejoin="round"/>
<ellipse cx="385" cy="322" rx="11.2" ry="11.6" fill="#ea4a30" stroke="#2a0a06" stroke-width="1.5"/>
<path d="M392.8 323.7A9 9.3 0 0 1 381.6 330.4" fill="none" stroke="#b82a1a" stroke-width="1.8" stroke-linecap="round" opacity=".55"/>
<ellipse cx="381.6" cy="321.4" rx="3.6" ry="4.9" fill="#f26a4c" opacity=".7"/>
<path d="M376 308.8L379.4 311.8L381.9 308L385 312L388.4 308L390.6 311.8L394.2 308.8L390.6 313.6L385 314.4L379.4 313.6Z" fill="#2f7d33" stroke="#0a1c0d" stroke-width="1.1" stroke-linejoin="round"/>
<path d="M491.3 269.4Q496 257.3 490.3 245.7Q485.6 257.8 491.3 269.4ZM491.3 269.4Q500.6 272.4 507.3 265.4Q498 262.4 491.3 269.4ZM491.3 269.4Q490.6 280.1 499.3 286.4Q500 275.7 491.3 269.4ZM491.3 269.4Q481.4 274.1 480 285Q489.9 280.3 491.3 269.4ZM491.3 269.4Q482.5 263.5 472.9 267.9Q481.7 273.8 491.3 269.4Z" fill="#f4e35e" stroke="#17150a" stroke-width="2.6" stroke-linejoin="round"/>
<path d="M491.3 269.4Q496 257.3 490.3 245.7Q485.6 257.8 491.3 269.4ZM491.3 269.4Q500.6 272.4 507.3 265.4Q498 262.4 491.3 269.4ZM491.3 269.4Q490.6 280.1 499.3 286.4Q500 275.7 491.3 269.4ZM491.3 269.4Q481.4 274.1 480 285Q489.9 280.3 491.3 269.4ZM491.3 269.4Q482.5 263.5 472.9 267.9Q481.7 273.8 491.3 269.4Z" fill="#f4e35e"/>
<path d="M491.3 269.4L490.6 254M491.3 269.4L501 266.8M491.3 269.4L496.4 280M491.3 269.4L484.5 279M491.3 269.4L480 268.3" stroke="#8a7a18" stroke-width=".8" fill="none"/>
<path d="M508 291.5C508 290.1 508.8 285.6 509.5 284C510.2 282.4 512.7 279.1 514 278C515.3 276.9 519.6 274.9 520.5 275C521.4 275.1 521.4 278.4 522 279C522.6 279.6 525.6 279.8 526 280.5C526.4 281.2 524.7 284.2 525 285C525.3 285.8 528.5 286.7 528.5 287.5C528.5 288.3 525.2 290.5 525 291.5C524.8 292.5 527 295.2 526.5 296C526 296.8 522.5 297.7 521 298C519.5 298.3 515.3 298.7 514 298.5C512.7 298.3 510.2 296.8 509.5 296C508.8 295.2 508 292.9 508 291.5Z" fill="#f4e35e" stroke="#17150a" stroke-width="1.8" stroke-linejoin="round"/>
<path d="M512 287C516 284 521 283.5 525 285M512 291C516 289.5 521 290 525 291.5M514 295C518 294 522 294.5 526 296M515 281C517 279 519 277.5 520.5 276" fill="none" stroke="#17150a" stroke-width="1.3" stroke-linecap="round"/>
<path d="M497 320C498.1 320.1 501 321.2 502 322C503 322.8 504.9 325.7 505.5 327C506.1 328.3 506.9 331.5 507 333C507.1 334.5 506.5 338.9 506 340C505.5 341.1 503.1 342.9 502.5 342.5C501.9 342.1 501 336.9 500.5 337C500 337.1 498.7 342.9 498 343C497.3 343.1 495.3 338.3 494.5 338C493.7 337.7 492 340.9 491.5 340.5C491 340.1 490.5 335.4 490 334.5C489.5 333.6 487.4 333.8 487.5 333C487.6 332.2 490.3 329 490.5 328C490.7 327 488.7 325.3 489 324.5C489.3 323.7 492.1 322 493 321.5C493.9 321 495.9 319.9 497 320Z" fill="#f4e35e" stroke="#17150a" stroke-width="1.8" stroke-linejoin="round"/>
<path d="M496 324C494 328 492.5 331 491.5 335M499.5 325C498.5 330 498 334 498 339M502 326C503.5 330 504 334 503.5 338" fill="none" stroke="#17150a" stroke-width="1.3" stroke-linecap="round"/>
<!--/PLANT-->
</svg>

<div id="title" class="abs"><span class="t">Parts of a plant.</span></div>

<div class="abs blank" style="left:83px;top:131px"></div>
<div class="abs blank" style="left:83px;top:199px"></div>
<div class="abs blank" style="left:85px;top:262px"></div>
<div class="abs blank" style="left:90px;top:350px"></div>
<div class="abs blank" style="left:96px;top:442px"></div>


<div class="abs tag" style="left:85px;top:618px;width:144px"><span class="t" style="top:11.0px;width:144px;font-size:21.6px;line-height:21.6px;color:#c45f0e;transform:translateX(0.2px) scaleX(0.958)">Root</span></div>
<div class="abs tag" style="left:276px;top:619px;width:144px"><span class="t" style="top:12.9px;width:144px;font-size:22.6px;line-height:22.6px;color:#7b5a12;transform:translateX(-0.1px) scaleX(1.025)">Stem</span></div>
<div class="abs tag" style="left:454px;top:619px;width:144px"><span class="t" style="top:11.2px;width:144px;font-size:21.6px;line-height:21.6px;color:#c11a3c;transform:translateX(0.0px) scaleX(0.946)">Fruit</span></div>
<div class="abs tag" style="left:176px;top:703px;width:143px"><span class="t" style="top:12.6px;width:143px;font-size:22px;line-height:22px;color:#1fb25c;transform:translateX(0.5px) scaleX(1)">Leaf</span></div>
<div class="abs tag" style="left:366px;top:701px;width:143px"><span class="t" style="top:12.3px;width:143px;font-size:22.8px;line-height:22.8px;color:#ffc11f;transform:translateX(-0.3px) scaleX(0.995)">Flower</span></div>

<div class="abs lg" style="left:489px;top:966px;background:#78c044">L</div>
<div class="abs lg" style="left:498px;top:966px;background:#f5a623">I</div>
<div class="abs lg" style="left:489px;top:975px;background:#5a9fd8">V</div>
<div class="abs lg" style="left:498px;top:975px;background:#e0354c">E</div>
<div id="logo" class="abs t">LIVEWORKSHEETS</div>
</body>
</html>
